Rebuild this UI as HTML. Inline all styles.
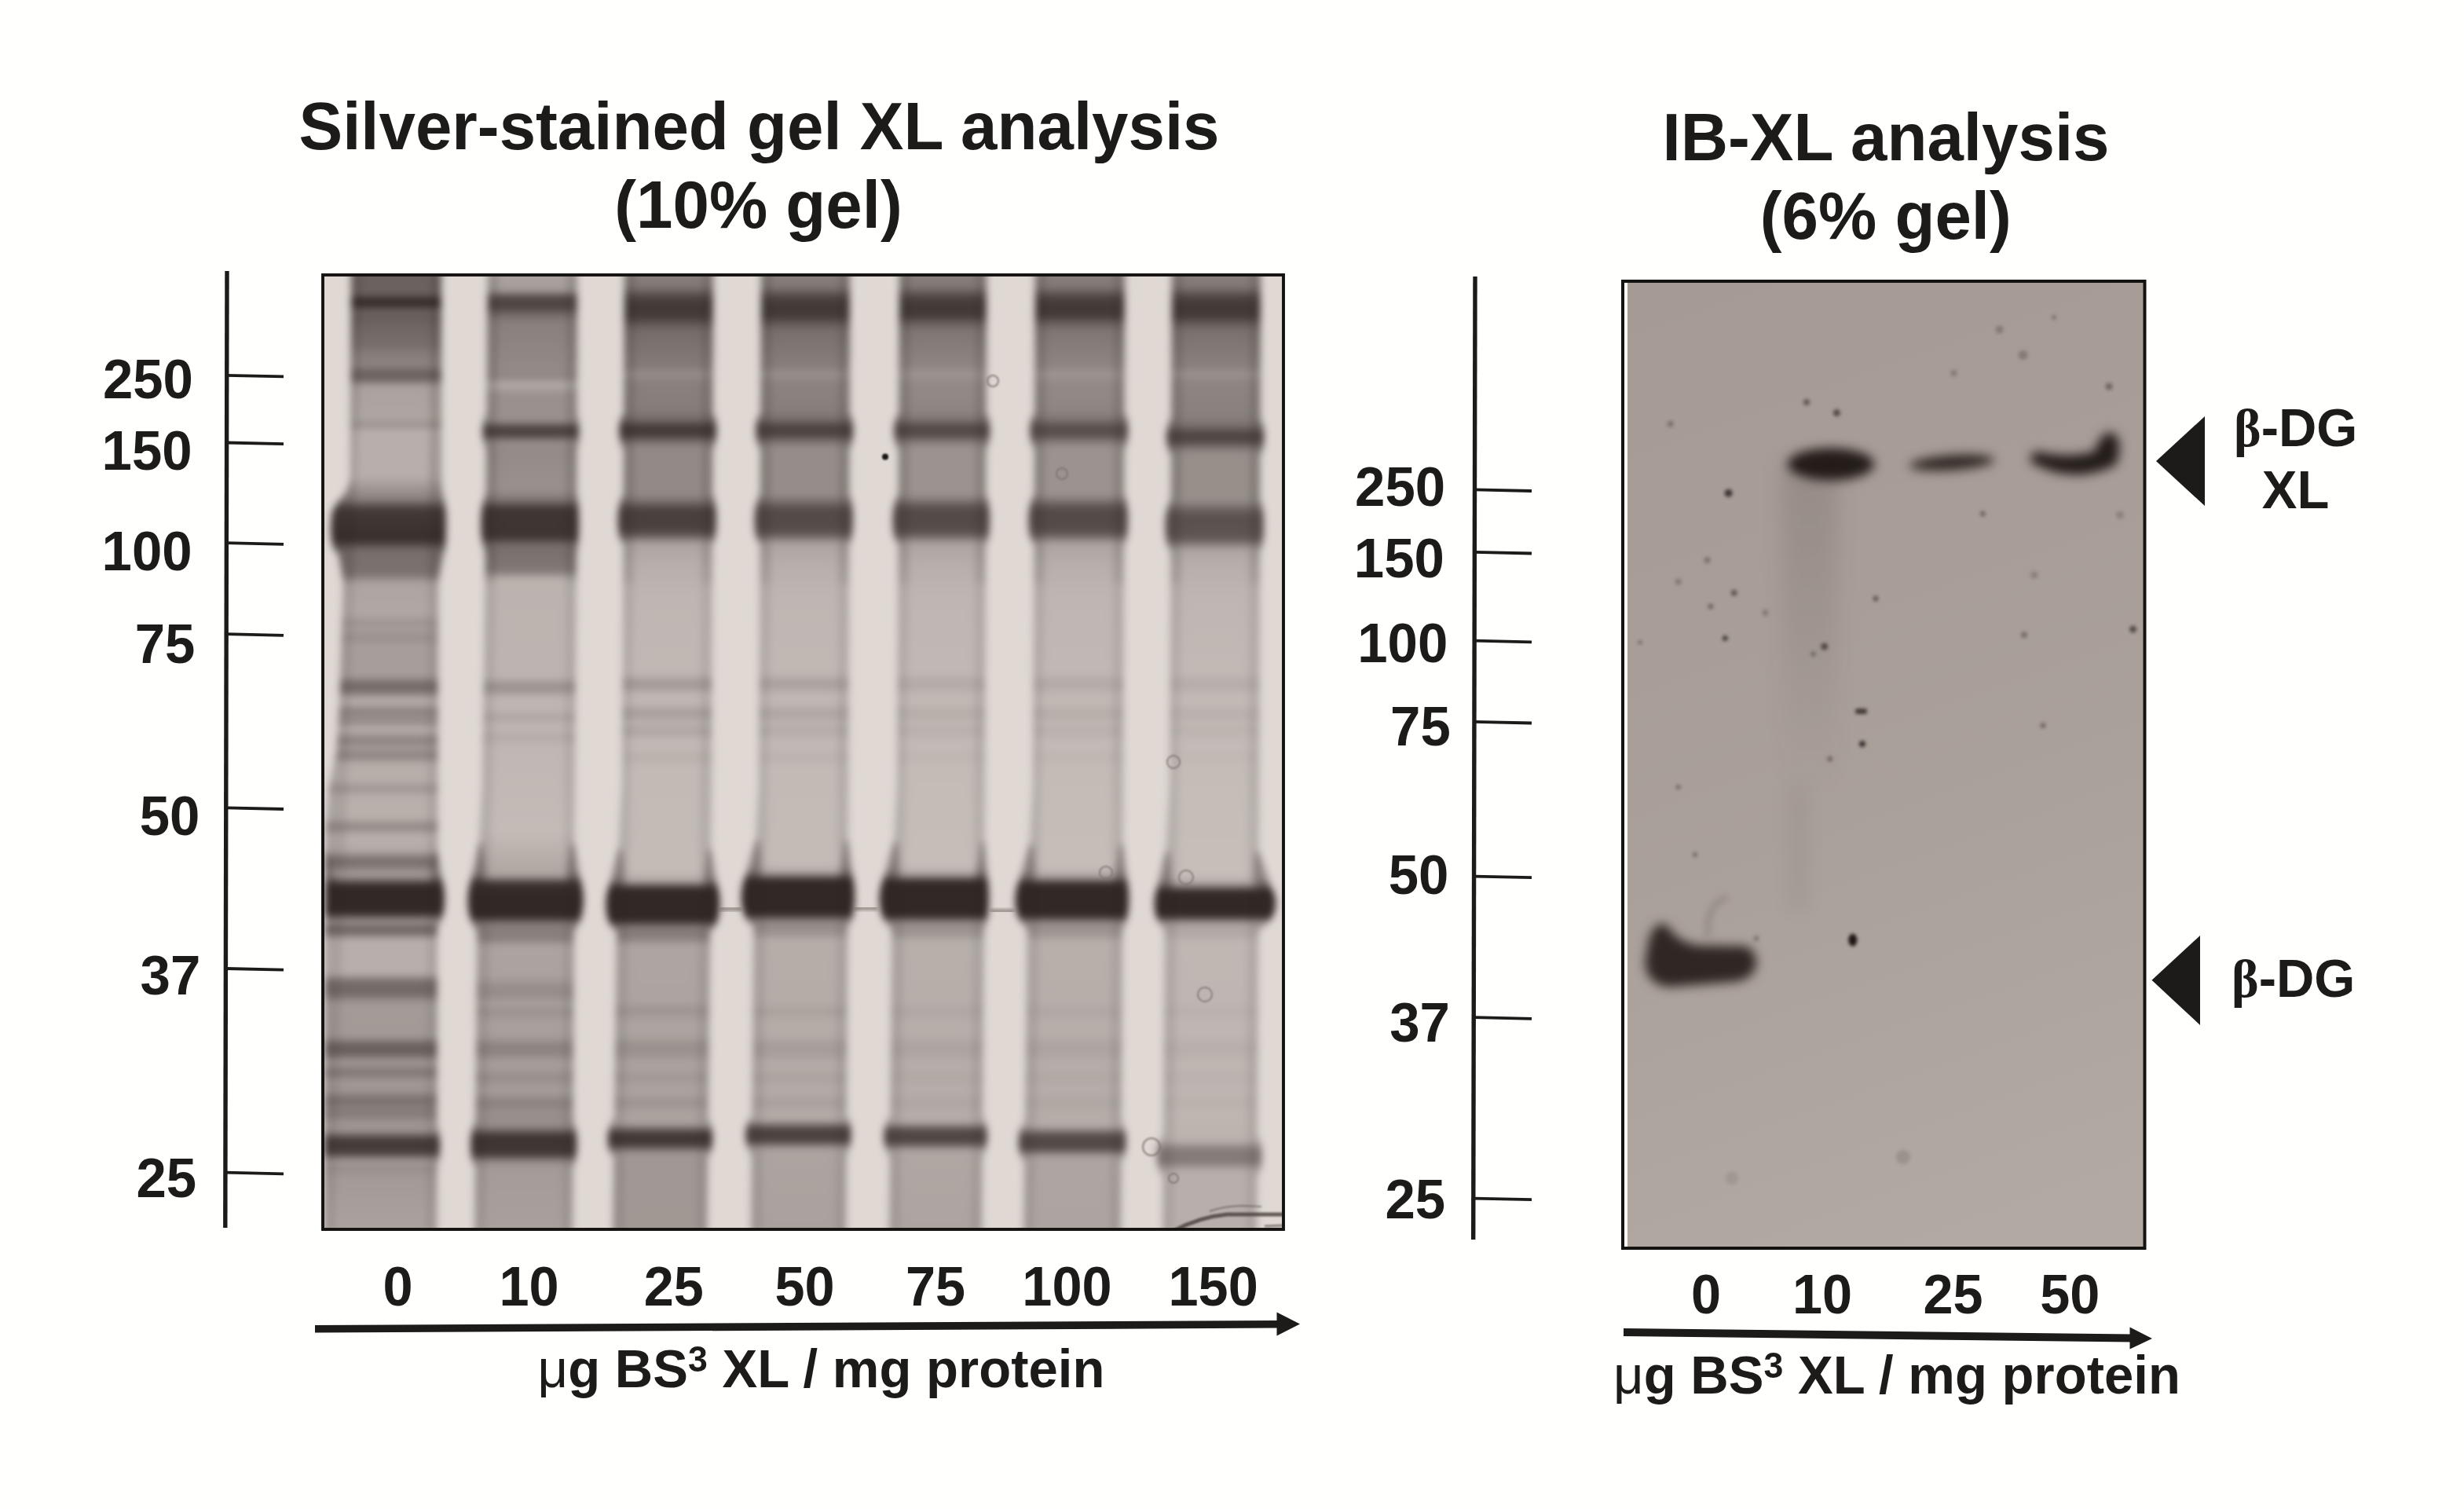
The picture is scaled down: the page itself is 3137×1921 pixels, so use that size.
<!DOCTYPE html><html><head><meta charset="utf-8"><title>Silver-stained gel XL analysis / IB-XL analysis</title>
<style>html,body{margin:0;padding:0;background:#fffffd;}svg{display:block}text{font-family:"Liberation Sans",sans-serif;font-weight:bold;fill:#1d1b19}.r{font-weight:normal}.s{font-family:"Liberation Serif",serif;font-weight:bold}</style></head><body>
<svg width="3137" height="1921" viewBox="0 0 3137 1921">
<defs>
<filter color-interpolation-filters="sRGB" id="b3" x="-5%" y="-5%" width="110%" height="110%"><feGaussianBlur stdDeviation="4.6"/></filter>
<filter color-interpolation-filters="sRGB" id="b2" x="-20%" y="-20%" width="140%" height="140%"><feGaussianBlur stdDeviation="2"/></filter>
<filter color-interpolation-filters="sRGB" id="b1" x="-30%" y="-30%" width="160%" height="160%"><feGaussianBlur stdDeviation="1.2"/></filter>
<filter color-interpolation-filters="sRGB" id="b7" x="-30%" y="-30%" width="160%" height="160%"><feGaussianBlur stdDeviation="7"/></filter>
<filter color-interpolation-filters="sRGB" id="b6" x="-30%" y="-30%" width="160%" height="160%"><feGaussianBlur stdDeviation="6"/></filter>
<filter color-interpolation-filters="sRGB" id="bs" x="-150%" y="-150%" width="400%" height="400%"><feGaussianBlur stdDeviation="4"/></filter>
<filter color-interpolation-filters="sRGB" id="b12" x="-150%" y="-30%" width="400%" height="160%"><feGaussianBlur stdDeviation="12"/></filter>
<filter color-interpolation-filters="sRGB" id="b25" x="-50%" y="-50%" width="200%" height="200%"><feGaussianBlur stdDeviation="25"/></filter>
<clipPath id="cg"><rect x="411" y="350" width="1223" height="1215"/></clipPath>
<clipPath id="cb"><rect x="2066" y="358" width="665" height="1231"/></clipPath>
<linearGradient id="g0" gradientUnits="userSpaceOnUse" x1="0" y1="350" x2="0" y2="1566">
<stop offset="0.0000" stop-color="#69615d"/><stop offset="0.0197" stop-color="#6b635f"/><stop offset="0.0214" stop-color="#635a57"/><stop offset="0.0247" stop-color="#3d3431"/><stop offset="0.0263" stop-color="#342b28"/><stop offset="0.0312" stop-color="#352c29"/><stop offset="0.0329" stop-color="#3e3532"/><stop offset="0.0362" stop-color="#645c58"/><stop offset="0.0378" stop-color="#6d6561"/><stop offset="0.0411" stop-color="#6f6663"/><stop offset="0.0428" stop-color="#6a625e"/><stop offset="0.0444" stop-color="#615855"/><stop offset="0.0461" stop-color="#5e5552"/><stop offset="0.0493" stop-color="#716965"/><stop offset="0.0510" stop-color="#736b67"/><stop offset="0.0526" stop-color="#716965"/><stop offset="0.0543" stop-color="#665e5a"/><stop offset="0.0559" stop-color="#675f5b"/><stop offset="0.0576" stop-color="#746b68"/><stop offset="0.0609" stop-color="#78706c"/><stop offset="0.0641" stop-color="#68605c"/><stop offset="0.0674" stop-color="#7b736f"/><stop offset="0.0707" stop-color="#7a726e"/><stop offset="0.0724" stop-color="#6f6663"/><stop offset="0.0740" stop-color="#706764"/><stop offset="0.0757" stop-color="#7d7471"/><stop offset="0.0773" stop-color="#807874"/><stop offset="0.0938" stop-color="#8d8581"/><stop offset="0.0954" stop-color="#8c8480"/><stop offset="0.0970" stop-color="#857d79"/><stop offset="0.1003" stop-color="#706864"/><stop offset="0.1020" stop-color="#69615d"/><stop offset="0.1069" stop-color="#6a615e"/><stop offset="0.1086" stop-color="#6b635f"/><stop offset="0.1102" stop-color="#736a67"/><stop offset="0.1118" stop-color="#7e7672"/><stop offset="0.1151" stop-color="#a8a19c"/><stop offset="0.1168" stop-color="#aaa29e"/><stop offset="0.1513" stop-color="#ada6a1"/><stop offset="0.1530" stop-color="#aba49f"/><stop offset="0.1562" stop-color="#918985"/><stop offset="0.1579" stop-color="#948c88"/><stop offset="0.1612" stop-color="#b3aca7"/><stop offset="0.1628" stop-color="#b7afab"/><stop offset="0.2105" stop-color="#b7afab"/><stop offset="0.2336" stop-color="#8c8480"/><stop offset="0.2368" stop-color="#7e7672"/><stop offset="0.2434" stop-color="#4e4642"/><stop offset="0.2451" stop-color="#463e3a"/><stop offset="0.2467" stop-color="#433a37"/><stop offset="0.2763" stop-color="#39302d"/><stop offset="0.2780" stop-color="#3c3330"/><stop offset="0.2796" stop-color="#423a36"/><stop offset="0.2862" stop-color="#6d6561"/><stop offset="0.2878" stop-color="#746c68"/><stop offset="0.2895" stop-color="#776f6b"/><stop offset="0.3125" stop-color="#7b726f"/><stop offset="0.3141" stop-color="#7f7673"/><stop offset="0.3224" stop-color="#aca4a0"/><stop offset="0.3536" stop-color="#b0a8a4"/><stop offset="0.3586" stop-color="#aaa39e"/><stop offset="0.3635" stop-color="#99918d"/><stop offset="0.3684" stop-color="#a49c98"/><stop offset="0.3734" stop-color="#a69e9a"/><stop offset="0.3799" stop-color="#958d89"/><stop offset="0.3865" stop-color="#a69e9a"/><stop offset="0.4194" stop-color="#a69e9a"/><stop offset="0.4211" stop-color="#a19995"/><stop offset="0.4276" stop-color="#736b67"/><stop offset="0.4293" stop-color="#706864"/><stop offset="0.4342" stop-color="#746b68"/><stop offset="0.4359" stop-color="#78706c"/><stop offset="0.4408" stop-color="#a29a96"/><stop offset="0.4424" stop-color="#aea6a2"/><stop offset="0.4441" stop-color="#b2aba6"/><stop offset="0.4507" stop-color="#b1a9a5"/><stop offset="0.4556" stop-color="#877f7b"/><stop offset="0.4572" stop-color="#867e7a"/><stop offset="0.4589" stop-color="#88807c"/><stop offset="0.4622" stop-color="#9e9792"/><stop offset="0.4638" stop-color="#9d9591"/><stop offset="0.4655" stop-color="#908984"/><stop offset="0.4671" stop-color="#8a827e"/><stop offset="0.4688" stop-color="#918985"/><stop offset="0.4720" stop-color="#ada6a1"/><stop offset="0.4737" stop-color="#b4aca8"/><stop offset="0.4786" stop-color="#b3aba7"/><stop offset="0.4803" stop-color="#aba49f"/><stop offset="0.4836" stop-color="#948c88"/><stop offset="0.4852" stop-color="#8c8480"/><stop offset="0.4868" stop-color="#8b837f"/><stop offset="0.4901" stop-color="#8d8581"/><stop offset="0.4951" stop-color="#a8a09c"/><stop offset="0.4967" stop-color="#a69e9a"/><stop offset="0.5000" stop-color="#908884"/><stop offset="0.5016" stop-color="#8c8480"/><stop offset="0.5049" stop-color="#8d8581"/><stop offset="0.5066" stop-color="#958d89"/><stop offset="0.5099" stop-color="#ada6a1"/><stop offset="0.5115" stop-color="#b4ada8"/><stop offset="0.5132" stop-color="#b5aea9"/><stop offset="0.5296" stop-color="#b6afaa"/><stop offset="0.5312" stop-color="#b4aca8"/><stop offset="0.5362" stop-color="#9e9692"/><stop offset="0.5378" stop-color="#9b938f"/><stop offset="0.5395" stop-color="#9e9692"/><stop offset="0.5444" stop-color="#b4ada8"/><stop offset="0.5461" stop-color="#b7afab"/><stop offset="0.5559" stop-color="#b7b0ab"/><stop offset="0.5691" stop-color="#b7b0ab"/><stop offset="0.5757" stop-color="#918a85"/><stop offset="0.5789" stop-color="#918985"/><stop offset="0.5806" stop-color="#958d89"/><stop offset="0.5855" stop-color="#b5ada9"/><stop offset="0.5872" stop-color="#b8b0ac"/><stop offset="0.6020" stop-color="#b3aca7"/><stop offset="0.6036" stop-color="#afa7a3"/><stop offset="0.6053" stop-color="#a49c98"/><stop offset="0.6102" stop-color="#7f7773"/><stop offset="0.6118" stop-color="#7b726f"/><stop offset="0.6168" stop-color="#78706c"/><stop offset="0.6184" stop-color="#7b726f"/><stop offset="0.6250" stop-color="#a29a96"/><stop offset="0.6266" stop-color="#a39b97"/><stop offset="0.6299" stop-color="#9e9692"/><stop offset="0.6316" stop-color="#938b87"/><stop offset="0.6332" stop-color="#7c7470"/><stop offset="0.6365" stop-color="#4c4340"/><stop offset="0.6382" stop-color="#39312d"/><stop offset="0.6398" stop-color="#322926"/><stop offset="0.6661" stop-color="#322926"/><stop offset="0.6678" stop-color="#342b28"/><stop offset="0.6694" stop-color="#423936"/><stop offset="0.6743" stop-color="#877f7b"/><stop offset="0.6760" stop-color="#978f8b"/><stop offset="0.6776" stop-color="#99918d"/><stop offset="0.6793" stop-color="#918985"/><stop offset="0.6826" stop-color="#716965"/><stop offset="0.6842" stop-color="#6c6360"/><stop offset="0.6891" stop-color="#736b67"/><stop offset="0.6908" stop-color="#7e7672"/><stop offset="0.6941" stop-color="#ada5a1"/><stop offset="0.6957" stop-color="#b7afab"/><stop offset="0.7303" stop-color="#b7afab"/><stop offset="0.7319" stop-color="#b5ada9"/><stop offset="0.7385" stop-color="#7e7672"/><stop offset="0.7401" stop-color="#756c69"/><stop offset="0.7418" stop-color="#726a66"/><stop offset="0.7516" stop-color="#726966"/><stop offset="0.7533" stop-color="#746c68"/><stop offset="0.7599" stop-color="#98908c"/><stop offset="0.7632" stop-color="#a39b97"/><stop offset="0.7961" stop-color="#a19a95"/><stop offset="0.7977" stop-color="#a09894"/><stop offset="0.7993" stop-color="#97908b"/><stop offset="0.8043" stop-color="#716965"/><stop offset="0.8059" stop-color="#6a625e"/><stop offset="0.8076" stop-color="#69605d"/><stop offset="0.8141" stop-color="#69605d"/><stop offset="0.8158" stop-color="#6c6460"/><stop offset="0.8207" stop-color="#908884"/><stop offset="0.8224" stop-color="#9c9490"/><stop offset="0.8240" stop-color="#a09894"/><stop offset="0.8273" stop-color="#9f9793"/><stop offset="0.8322" stop-color="#847b78"/><stop offset="0.8339" stop-color="#7e7572"/><stop offset="0.8355" stop-color="#7d7571"/><stop offset="0.8372" stop-color="#807874"/><stop offset="0.8421" stop-color="#9c9490"/><stop offset="0.8438" stop-color="#9f9893"/><stop offset="0.8553" stop-color="#9e9692"/><stop offset="0.8618" stop-color="#79716d"/><stop offset="0.8651" stop-color="#78706c"/><stop offset="0.8668" stop-color="#79716d"/><stop offset="0.8717" stop-color="#8b837f"/><stop offset="0.8734" stop-color="#8a827e"/><stop offset="0.8766" stop-color="#827a76"/><stop offset="0.8799" stop-color="#837b77"/><stop offset="0.8865" stop-color="#9d9591"/><stop offset="0.8947" stop-color="#9d9691"/><stop offset="0.8964" stop-color="#9b938f"/><stop offset="0.8980" stop-color="#8d8581"/><stop offset="0.9030" stop-color="#514945"/><stop offset="0.9046" stop-color="#463d3a"/><stop offset="0.9062" stop-color="#443b38"/><stop offset="0.9178" stop-color="#453c39"/><stop offset="0.9194" stop-color="#4c4340"/><stop offset="0.9211" stop-color="#5c5350"/><stop offset="0.9243" stop-color="#867e7a"/><stop offset="0.9260" stop-color="#99918d"/><stop offset="0.9276" stop-color="#a09994"/><stop offset="0.9309" stop-color="#a19995"/><stop offset="0.9359" stop-color="#958d89"/><stop offset="0.9375" stop-color="#958d89"/><stop offset="0.9424" stop-color="#a29a96"/><stop offset="1.0000" stop-color="#aaa29e"/>
</linearGradient>
<linearGradient id="g1" gradientUnits="userSpaceOnUse" x1="0" y1="350" x2="0" y2="1566">
<stop offset="0.0000" stop-color="#aca4a0"/><stop offset="0.0181" stop-color="#a19a95"/><stop offset="0.0214" stop-color="#554c49"/><stop offset="0.0345" stop-color="#4c4340"/><stop offset="0.0395" stop-color="#6f6663"/><stop offset="0.0493" stop-color="#88807c"/><stop offset="0.1036" stop-color="#938b87"/><stop offset="0.1086" stop-color="#8a827e"/><stop offset="0.1118" stop-color="#b2aaa6"/><stop offset="0.1184" stop-color="#aea7a2"/><stop offset="0.1234" stop-color="#99918d"/><stop offset="0.1530" stop-color="#99918d"/><stop offset="0.1546" stop-color="#8b837f"/><stop offset="0.1579" stop-color="#58504c"/><stop offset="0.1595" stop-color="#4d4441"/><stop offset="0.1678" stop-color="#4b433f"/><stop offset="0.1694" stop-color="#564e4a"/><stop offset="0.1727" stop-color="#88807c"/><stop offset="0.1743" stop-color="#958d89"/><stop offset="0.1859" stop-color="#938b87"/><stop offset="0.2253" stop-color="#99918d"/><stop offset="0.2368" stop-color="#7a726e"/><stop offset="0.2434" stop-color="#473e3b"/><stop offset="0.2451" stop-color="#3f3633"/><stop offset="0.2730" stop-color="#3e3532"/><stop offset="0.2747" stop-color="#3f3633"/><stop offset="0.2763" stop-color="#473e3b"/><stop offset="0.2812" stop-color="#6f6663"/><stop offset="0.2829" stop-color="#776f6b"/><stop offset="0.3092" stop-color="#807874"/><stop offset="0.3109" stop-color="#857d79"/><stop offset="0.3174" stop-color="#b5aea9"/><stop offset="0.3191" stop-color="#bab3ae"/><stop offset="0.4211" stop-color="#bcb4b0"/><stop offset="0.4227" stop-color="#b9b1ad"/><stop offset="0.4276" stop-color="#9d9591"/><stop offset="0.4293" stop-color="#99928d"/><stop offset="0.4342" stop-color="#9a928e"/><stop offset="0.4359" stop-color="#9e9692"/><stop offset="0.4408" stop-color="#bab2ae"/><stop offset="0.4424" stop-color="#bdb5b1"/><stop offset="0.4556" stop-color="#bdb6b1"/><stop offset="0.4572" stop-color="#bbb3af"/><stop offset="0.4605" stop-color="#afa7a3"/><stop offset="0.4638" stop-color="#aca4a0"/><stop offset="0.4704" stop-color="#beb6b2"/><stop offset="0.4770" stop-color="#beb6b2"/><stop offset="0.4819" stop-color="#b3aca7"/><stop offset="0.4852" stop-color="#b3aba7"/><stop offset="0.4934" stop-color="#bfb7b3"/><stop offset="0.5839" stop-color="#c2bbb6"/><stop offset="0.6283" stop-color="#aca5a0"/><stop offset="0.6299" stop-color="#a29a96"/><stop offset="0.6316" stop-color="#8a827e"/><stop offset="0.6349" stop-color="#564d4a"/><stop offset="0.6365" stop-color="#413935"/><stop offset="0.6382" stop-color="#39302d"/><stop offset="0.6497" stop-color="#322926"/><stop offset="0.6711" stop-color="#322926"/><stop offset="0.6727" stop-color="#342b28"/><stop offset="0.6776" stop-color="#79716d"/><stop offset="0.6793" stop-color="#867e7a"/><stop offset="0.6957" stop-color="#88807c"/><stop offset="0.6974" stop-color="#8e8682"/><stop offset="0.7007" stop-color="#a69e9a"/><stop offset="0.7023" stop-color="#aca4a0"/><stop offset="0.7352" stop-color="#aaa29e"/><stop offset="0.7451" stop-color="#958d89"/><stop offset="0.7549" stop-color="#968e8a"/><stop offset="0.7615" stop-color="#a7a09b"/><stop offset="0.7632" stop-color="#a8a19c"/><stop offset="0.7714" stop-color="#98908c"/><stop offset="0.7812" stop-color="#a8a09c"/><stop offset="0.7961" stop-color="#a79f9b"/><stop offset="0.7993" stop-color="#a39b97"/><stop offset="0.8043" stop-color="#908884"/><stop offset="0.8076" stop-color="#8b837f"/><stop offset="0.8158" stop-color="#8d8581"/><stop offset="0.8207" stop-color="#9f9793"/><stop offset="0.8240" stop-color="#a69e9a"/><stop offset="0.8322" stop-color="#a59d99"/><stop offset="0.8372" stop-color="#98908c"/><stop offset="0.8405" stop-color="#948c88"/><stop offset="0.8438" stop-color="#97908b"/><stop offset="0.8487" stop-color="#a49c98"/><stop offset="0.8569" stop-color="#a39c97"/><stop offset="0.8635" stop-color="#8f8783"/><stop offset="0.8684" stop-color="#88807c"/><stop offset="0.8750" stop-color="#98908c"/><stop offset="0.8898" stop-color="#968e8a"/><stop offset="0.8914" stop-color="#948c88"/><stop offset="0.8931" stop-color="#89817d"/><stop offset="0.8997" stop-color="#473e3b"/><stop offset="0.9013" stop-color="#3e3532"/><stop offset="0.9030" stop-color="#3d3431"/><stop offset="0.9194" stop-color="#403834"/><stop offset="0.9211" stop-color="#4a413e"/><stop offset="0.9227" stop-color="#59504d"/><stop offset="0.9276" stop-color="#8f8783"/><stop offset="0.9293" stop-color="#9b938f"/><stop offset="0.9309" stop-color="#9e9692"/><stop offset="0.9375" stop-color="#a39c97"/><stop offset="1.0000" stop-color="#a8a09c"/>
</linearGradient>
<linearGradient id="g2" gradientUnits="userSpaceOnUse" x1="0" y1="350" x2="0" y2="1566">
<stop offset="0.0000" stop-color="#88807c"/><stop offset="0.0132" stop-color="#807874"/><stop offset="0.0214" stop-color="#554c49"/><stop offset="0.0296" stop-color="#433a37"/><stop offset="0.0428" stop-color="#433a37"/><stop offset="0.0576" stop-color="#756c69"/><stop offset="0.0987" stop-color="#857d79"/><stop offset="0.1020" stop-color="#978f8b"/><stop offset="0.1053" stop-color="#978f8b"/><stop offset="0.1102" stop-color="#89817d"/><stop offset="0.1414" stop-color="#857d79"/><stop offset="0.1497" stop-color="#79716d"/><stop offset="0.1513" stop-color="#746c68"/><stop offset="0.1579" stop-color="#4a423e"/><stop offset="0.1595" stop-color="#433b37"/><stop offset="0.1612" stop-color="#413835"/><stop offset="0.1661" stop-color="#433a37"/><stop offset="0.1678" stop-color="#49403d"/><stop offset="0.1760" stop-color="#817975"/><stop offset="0.1809" stop-color="#928a86"/><stop offset="0.2286" stop-color="#928a86"/><stop offset="0.2352" stop-color="#827a76"/><stop offset="0.2434" stop-color="#554c49"/><stop offset="0.2467" stop-color="#4a413e"/><stop offset="0.2484" stop-color="#483f3c"/><stop offset="0.2648" stop-color="#4b423f"/><stop offset="0.2681" stop-color="#4f4643"/><stop offset="0.2730" stop-color="#665d5a"/><stop offset="0.2780" stop-color="#938b87"/><stop offset="0.2812" stop-color="#aca4a0"/><stop offset="0.3043" stop-color="#b7afab"/><stop offset="0.3372" stop-color="#beb6b2"/><stop offset="0.4161" stop-color="#bfb8b3"/><stop offset="0.4194" stop-color="#bbb3af"/><stop offset="0.4260" stop-color="#a09994"/><stop offset="0.4293" stop-color="#a09894"/><stop offset="0.4326" stop-color="#a59e99"/><stop offset="0.4375" stop-color="#bbb4af"/><stop offset="0.4408" stop-color="#c0b8b4"/><stop offset="0.4490" stop-color="#bfb8b3"/><stop offset="0.4556" stop-color="#aaa39e"/><stop offset="0.4589" stop-color="#a69e9a"/><stop offset="0.4622" stop-color="#a8a19c"/><stop offset="0.4688" stop-color="#bdb6b1"/><stop offset="0.4770" stop-color="#aca4a0"/><stop offset="0.4803" stop-color="#b0a8a4"/><stop offset="0.4852" stop-color="#bdb6b1"/><stop offset="0.4885" stop-color="#c1b9b5"/><stop offset="0.4967" stop-color="#c0b9b4"/><stop offset="0.5049" stop-color="#b6afaa"/><stop offset="0.5148" stop-color="#c1bab5"/><stop offset="0.6250" stop-color="#c2bbb6"/><stop offset="0.6349" stop-color="#aea7a2"/><stop offset="0.6365" stop-color="#98918c"/><stop offset="0.6414" stop-color="#3e3532"/><stop offset="0.6431" stop-color="#322926"/><stop offset="0.6760" stop-color="#322926"/><stop offset="0.6776" stop-color="#433a37"/><stop offset="0.6793" stop-color="#615955"/><stop offset="0.6809" stop-color="#79706d"/><stop offset="0.6826" stop-color="#827a76"/><stop offset="0.6941" stop-color="#88807c"/><stop offset="0.6957" stop-color="#8d8581"/><stop offset="0.7007" stop-color="#a8a19c"/><stop offset="0.7023" stop-color="#ada5a1"/><stop offset="0.7615" stop-color="#aca4a0"/><stop offset="0.7681" stop-color="#9e9692"/><stop offset="0.7714" stop-color="#9c9490"/><stop offset="0.7812" stop-color="#aca4a0"/><stop offset="0.7961" stop-color="#aba49f"/><stop offset="0.8059" stop-color="#98918c"/><stop offset="0.8158" stop-color="#9a928e"/><stop offset="0.8240" stop-color="#aba39f"/><stop offset="0.8322" stop-color="#aaa29e"/><stop offset="0.8405" stop-color="#9d9691"/><stop offset="0.8487" stop-color="#aaa29e"/><stop offset="0.8569" stop-color="#aba39f"/><stop offset="0.8668" stop-color="#9a928e"/><stop offset="0.8766" stop-color="#aaa39e"/><stop offset="0.8882" stop-color="#a9a29d"/><stop offset="0.8898" stop-color="#a29b96"/><stop offset="0.8914" stop-color="#928a86"/><stop offset="0.8964" stop-color="#564d4a"/><stop offset="0.8980" stop-color="#483f3c"/><stop offset="0.8997" stop-color="#423936"/><stop offset="0.9079" stop-color="#413835"/><stop offset="0.9095" stop-color="#423936"/><stop offset="0.9112" stop-color="#4b433f"/><stop offset="0.9128" stop-color="#5b534f"/><stop offset="0.9161" stop-color="#827a76"/><stop offset="0.9178" stop-color="#958d89"/><stop offset="0.9194" stop-color="#a09894"/><stop offset="1.0000" stop-color="#9f9893"/>
</linearGradient>
<linearGradient id="g3" gradientUnits="userSpaceOnUse" x1="0" y1="350" x2="0" y2="1566">
<stop offset="0.0000" stop-color="#88807c"/><stop offset="0.0132" stop-color="#807874"/><stop offset="0.0214" stop-color="#554c49"/><stop offset="0.0296" stop-color="#433a37"/><stop offset="0.0428" stop-color="#433a37"/><stop offset="0.0493" stop-color="#5d5451"/><stop offset="0.0576" stop-color="#776f6b"/><stop offset="0.0987" stop-color="#88807c"/><stop offset="0.1020" stop-color="#99918d"/><stop offset="0.1053" stop-color="#99918d"/><stop offset="0.1102" stop-color="#8c8480"/><stop offset="0.1431" stop-color="#877e7b"/><stop offset="0.1513" stop-color="#776f6b"/><stop offset="0.1579" stop-color="#514945"/><stop offset="0.1612" stop-color="#49403d"/><stop offset="0.1661" stop-color="#4b423f"/><stop offset="0.1678" stop-color="#504844"/><stop offset="0.1760" stop-color="#847c78"/><stop offset="0.1809" stop-color="#958d89"/><stop offset="0.2286" stop-color="#958d89"/><stop offset="0.2336" stop-color="#89817d"/><stop offset="0.2434" stop-color="#5d5451"/><stop offset="0.2467" stop-color="#544b48"/><stop offset="0.2484" stop-color="#524a46"/><stop offset="0.2648" stop-color="#554c49"/><stop offset="0.2681" stop-color="#59504d"/><stop offset="0.2730" stop-color="#6b635f"/><stop offset="0.2780" stop-color="#948c88"/><stop offset="0.2812" stop-color="#aca4a0"/><stop offset="0.3043" stop-color="#b7afab"/><stop offset="0.3372" stop-color="#beb6b2"/><stop offset="0.4161" stop-color="#bfb8b3"/><stop offset="0.4194" stop-color="#bcb4b0"/><stop offset="0.4260" stop-color="#a8a19c"/><stop offset="0.4293" stop-color="#a8a09c"/><stop offset="0.4326" stop-color="#aca5a0"/><stop offset="0.4375" stop-color="#bcb5b0"/><stop offset="0.4408" stop-color="#c0b8b4"/><stop offset="0.4490" stop-color="#bfb8b3"/><stop offset="0.4556" stop-color="#b0a9a4"/><stop offset="0.4589" stop-color="#ada5a1"/><stop offset="0.4622" stop-color="#afa7a3"/><stop offset="0.4688" stop-color="#beb6b2"/><stop offset="0.4770" stop-color="#b1aaa5"/><stop offset="0.4885" stop-color="#c1b9b5"/><stop offset="0.4967" stop-color="#c0b9b4"/><stop offset="0.5049" stop-color="#b9b1ad"/><stop offset="0.5148" stop-color="#c1bab5"/><stop offset="0.6168" stop-color="#c2bbb6"/><stop offset="0.6250" stop-color="#b2aaa6"/><stop offset="0.6266" stop-color="#a69e9a"/><stop offset="0.6283" stop-color="#8a827e"/><stop offset="0.6316" stop-color="#4d4541"/><stop offset="0.6332" stop-color="#362d2a"/><stop offset="0.6349" stop-color="#322926"/><stop offset="0.6694" stop-color="#322926"/><stop offset="0.6711" stop-color="#433a37"/><stop offset="0.6743" stop-color="#7c7470"/><stop offset="0.6760" stop-color="#8e8682"/><stop offset="0.6776" stop-color="#928a86"/><stop offset="0.6891" stop-color="#99918d"/><stop offset="0.6957" stop-color="#b4ada8"/><stop offset="0.7615" stop-color="#b3aca7"/><stop offset="0.7714" stop-color="#a7a09b"/><stop offset="0.7812" stop-color="#b3aca7"/><stop offset="0.7961" stop-color="#b3aca7"/><stop offset="0.8059" stop-color="#a59d99"/><stop offset="0.8158" stop-color="#a69e9a"/><stop offset="0.8240" stop-color="#b3aba7"/><stop offset="0.8322" stop-color="#b2aba6"/><stop offset="0.8405" stop-color="#a8a19c"/><stop offset="0.8487" stop-color="#b2aaa6"/><stop offset="0.8569" stop-color="#b2aba6"/><stop offset="0.8668" stop-color="#a69e9a"/><stop offset="0.8750" stop-color="#b1aaa5"/><stop offset="0.8832" stop-color="#b2aba6"/><stop offset="0.8849" stop-color="#b0a9a4"/><stop offset="0.8865" stop-color="#a49d98"/><stop offset="0.8882" stop-color="#908884"/><stop offset="0.8914" stop-color="#675e5b"/><stop offset="0.8931" stop-color="#564d4a"/><stop offset="0.8947" stop-color="#4c4340"/><stop offset="0.9046" stop-color="#49403d"/><stop offset="0.9062" stop-color="#4d4541"/><stop offset="0.9079" stop-color="#5b524f"/><stop offset="0.9128" stop-color="#968e8a"/><stop offset="0.9145" stop-color="#a59e99"/><stop offset="0.9161" stop-color="#aba49f"/><stop offset="1.0000" stop-color="#a9a19d"/>
</linearGradient>
<linearGradient id="g4" gradientUnits="userSpaceOnUse" x1="0" y1="350" x2="0" y2="1566">
<stop offset="0.0000" stop-color="#88807c"/><stop offset="0.0132" stop-color="#807874"/><stop offset="0.0214" stop-color="#554c49"/><stop offset="0.0296" stop-color="#433a37"/><stop offset="0.0428" stop-color="#433a37"/><stop offset="0.0493" stop-color="#645c58"/><stop offset="0.0576" stop-color="#7e7672"/><stop offset="0.0987" stop-color="#8f8783"/><stop offset="0.1020" stop-color="#9f9793"/><stop offset="0.1069" stop-color="#9c9590"/><stop offset="0.1102" stop-color="#938b87"/><stop offset="0.1431" stop-color="#8d8581"/><stop offset="0.1513" stop-color="#7e7672"/><stop offset="0.1579" stop-color="#58504c"/><stop offset="0.1612" stop-color="#504744"/><stop offset="0.1661" stop-color="#524946"/><stop offset="0.1678" stop-color="#574f4b"/><stop offset="0.1760" stop-color="#8a827e"/><stop offset="0.1809" stop-color="#9b938f"/><stop offset="0.2286" stop-color="#9b938f"/><stop offset="0.2303" stop-color="#98908c"/><stop offset="0.2352" stop-color="#857d79"/><stop offset="0.2401" stop-color="#69615d"/><stop offset="0.2434" stop-color="#5d5451"/><stop offset="0.2467" stop-color="#544b48"/><stop offset="0.2484" stop-color="#524a46"/><stop offset="0.2648" stop-color="#554c49"/><stop offset="0.2681" stop-color="#59504d"/><stop offset="0.2730" stop-color="#6b635f"/><stop offset="0.2780" stop-color="#948c88"/><stop offset="0.2812" stop-color="#aca4a0"/><stop offset="0.3043" stop-color="#b7afab"/><stop offset="0.3372" stop-color="#beb6b2"/><stop offset="0.4161" stop-color="#c0b8b4"/><stop offset="0.4194" stop-color="#bdb6b1"/><stop offset="0.4260" stop-color="#b1a9a5"/><stop offset="0.4293" stop-color="#b1a9a5"/><stop offset="0.4408" stop-color="#c0b9b4"/><stop offset="0.4490" stop-color="#c0b9b4"/><stop offset="0.4556" stop-color="#b6afaa"/><stop offset="0.4589" stop-color="#b4ada8"/><stop offset="0.4622" stop-color="#b5aea9"/><stop offset="0.4688" stop-color="#bfb8b3"/><stop offset="0.4770" stop-color="#b7afab"/><stop offset="0.4885" stop-color="#c2bab6"/><stop offset="0.4967" stop-color="#c1bab5"/><stop offset="0.5049" stop-color="#bcb5b0"/><stop offset="0.5148" stop-color="#c2bbb6"/><stop offset="0.6184" stop-color="#c4bdb8"/><stop offset="0.6266" stop-color="#b2aaa6"/><stop offset="0.6283" stop-color="#a69f9a"/><stop offset="0.6299" stop-color="#8a827e"/><stop offset="0.6332" stop-color="#4e4542"/><stop offset="0.6349" stop-color="#362d2a"/><stop offset="0.6365" stop-color="#322926"/><stop offset="0.6711" stop-color="#322926"/><stop offset="0.6727" stop-color="#463d3a"/><stop offset="0.6760" stop-color="#7f7773"/><stop offset="0.6776" stop-color="#928b86"/><stop offset="0.6793" stop-color="#968e8a"/><stop offset="0.6908" stop-color="#9d9691"/><stop offset="0.6974" stop-color="#b6afaa"/><stop offset="0.7615" stop-color="#b5aea9"/><stop offset="0.7714" stop-color="#aea6a2"/><stop offset="0.7812" stop-color="#b5aea9"/><stop offset="0.7961" stop-color="#b5aea9"/><stop offset="0.8059" stop-color="#aca4a0"/><stop offset="0.8158" stop-color="#aca5a0"/><stop offset="0.8240" stop-color="#b5ada9"/><stop offset="0.8322" stop-color="#b4ada8"/><stop offset="0.8405" stop-color="#aea7a2"/><stop offset="0.8487" stop-color="#b4ada8"/><stop offset="0.8569" stop-color="#b5ada9"/><stop offset="0.8668" stop-color="#aca5a0"/><stop offset="0.8750" stop-color="#b4aca8"/><stop offset="0.8849" stop-color="#b4ada8"/><stop offset="0.8865" stop-color="#b3aba7"/><stop offset="0.8882" stop-color="#a79f9b"/><stop offset="0.8898" stop-color="#948c88"/><stop offset="0.8931" stop-color="#6b635f"/><stop offset="0.8947" stop-color="#5b524f"/><stop offset="0.8964" stop-color="#514845"/><stop offset="0.9062" stop-color="#4e4542"/><stop offset="0.9079" stop-color="#534a47"/><stop offset="0.9095" stop-color="#605754"/><stop offset="0.9145" stop-color="#99918d"/><stop offset="0.9161" stop-color="#a8a19c"/><stop offset="0.9178" stop-color="#aea7a2"/><stop offset="1.0000" stop-color="#aca4a0"/>
</linearGradient>
<linearGradient id="g5" gradientUnits="userSpaceOnUse" x1="0" y1="350" x2="0" y2="1566">
<stop offset="0.0000" stop-color="#88807c"/><stop offset="0.0132" stop-color="#807874"/><stop offset="0.0214" stop-color="#554c49"/><stop offset="0.0296" stop-color="#433a37"/><stop offset="0.0428" stop-color="#433a37"/><stop offset="0.0493" stop-color="#645c58"/><stop offset="0.0576" stop-color="#7e7672"/><stop offset="0.0987" stop-color="#8f8783"/><stop offset="0.1020" stop-color="#9f9793"/><stop offset="0.1069" stop-color="#9c9590"/><stop offset="0.1102" stop-color="#938b87"/><stop offset="0.1431" stop-color="#8d8581"/><stop offset="0.1513" stop-color="#7e7672"/><stop offset="0.1579" stop-color="#5c5450"/><stop offset="0.1612" stop-color="#554d49"/><stop offset="0.1661" stop-color="#574e4b"/><stop offset="0.1678" stop-color="#5c5350"/><stop offset="0.1760" stop-color="#8a827e"/><stop offset="0.1809" stop-color="#9b938f"/><stop offset="0.2286" stop-color="#9b938f"/><stop offset="0.2303" stop-color="#98908c"/><stop offset="0.2352" stop-color="#857d79"/><stop offset="0.2401" stop-color="#69615d"/><stop offset="0.2434" stop-color="#5d5451"/><stop offset="0.2467" stop-color="#544b48"/><stop offset="0.2484" stop-color="#524a46"/><stop offset="0.2648" stop-color="#554c49"/><stop offset="0.2681" stop-color="#59504d"/><stop offset="0.2730" stop-color="#6b635f"/><stop offset="0.2780" stop-color="#948c88"/><stop offset="0.2812" stop-color="#aca4a0"/><stop offset="0.3043" stop-color="#b7afab"/><stop offset="0.3372" stop-color="#beb6b2"/><stop offset="0.4161" stop-color="#c0b8b4"/><stop offset="0.4194" stop-color="#bdb6b1"/><stop offset="0.4260" stop-color="#b1a9a5"/><stop offset="0.4293" stop-color="#b1a9a5"/><stop offset="0.4408" stop-color="#c0b9b4"/><stop offset="0.4490" stop-color="#c0b9b4"/><stop offset="0.4556" stop-color="#b6afaa"/><stop offset="0.4589" stop-color="#b4ada8"/><stop offset="0.4622" stop-color="#b5aea9"/><stop offset="0.4688" stop-color="#bfb8b3"/><stop offset="0.4770" stop-color="#b7afab"/><stop offset="0.4885" stop-color="#c2bab6"/><stop offset="0.4967" stop-color="#c1bab5"/><stop offset="0.5049" stop-color="#bcb5b0"/><stop offset="0.5148" stop-color="#c2bbb6"/><stop offset="0.6201" stop-color="#c4bdb8"/><stop offset="0.6299" stop-color="#afa7a3"/><stop offset="0.6316" stop-color="#9a928e"/><stop offset="0.6365" stop-color="#413835"/><stop offset="0.6382" stop-color="#322926"/><stop offset="0.6711" stop-color="#322926"/><stop offset="0.6727" stop-color="#463d3a"/><stop offset="0.6760" stop-color="#7f7773"/><stop offset="0.6776" stop-color="#928b86"/><stop offset="0.6793" stop-color="#968e8a"/><stop offset="0.6908" stop-color="#9d9691"/><stop offset="0.6974" stop-color="#b6afaa"/><stop offset="0.7615" stop-color="#b5aea9"/><stop offset="0.7714" stop-color="#aea6a2"/><stop offset="0.7812" stop-color="#b5aea9"/><stop offset="0.7961" stop-color="#b5aea9"/><stop offset="0.8059" stop-color="#aca4a0"/><stop offset="0.8158" stop-color="#aca5a0"/><stop offset="0.8240" stop-color="#b5ada9"/><stop offset="0.8322" stop-color="#b4ada8"/><stop offset="0.8405" stop-color="#aea7a2"/><stop offset="0.8487" stop-color="#b4ada8"/><stop offset="0.8569" stop-color="#b5ada9"/><stop offset="0.8668" stop-color="#aca5a0"/><stop offset="0.8766" stop-color="#b4ada8"/><stop offset="0.8898" stop-color="#b3aca7"/><stop offset="0.8914" stop-color="#b2aaa6"/><stop offset="0.8931" stop-color="#a79f9b"/><stop offset="0.8980" stop-color="#6d6461"/><stop offset="0.8997" stop-color="#5d5551"/><stop offset="0.9013" stop-color="#544b48"/><stop offset="0.9128" stop-color="#504844"/><stop offset="0.9145" stop-color="#554c49"/><stop offset="0.9161" stop-color="#615955"/><stop offset="0.9211" stop-color="#98918c"/><stop offset="0.9227" stop-color="#a7a09b"/><stop offset="0.9243" stop-color="#ada5a1"/><stop offset="1.0000" stop-color="#aca4a0"/>
</linearGradient>
<linearGradient id="g6" gradientUnits="userSpaceOnUse" x1="0" y1="350" x2="0" y2="1566">
<stop offset="0.0000" stop-color="#88807c"/><stop offset="0.0132" stop-color="#807874"/><stop offset="0.0214" stop-color="#554c49"/><stop offset="0.0296" stop-color="#433a37"/><stop offset="0.0428" stop-color="#433a37"/><stop offset="0.0493" stop-color="#5f5653"/><stop offset="0.0576" stop-color="#79716d"/><stop offset="0.0987" stop-color="#8a827e"/><stop offset="0.1020" stop-color="#9b938f"/><stop offset="0.1053" stop-color="#9b938f"/><stop offset="0.1102" stop-color="#8e8682"/><stop offset="0.1497" stop-color="#88807c"/><stop offset="0.1579" stop-color="#79716d"/><stop offset="0.1645" stop-color="#554c49"/><stop offset="0.1678" stop-color="#4d4441"/><stop offset="0.1727" stop-color="#4f4643"/><stop offset="0.1743" stop-color="#544b48"/><stop offset="0.1826" stop-color="#867e7a"/><stop offset="0.1875" stop-color="#968f8a"/><stop offset="0.2352" stop-color="#968f8a"/><stop offset="0.2401" stop-color="#877f7b"/><stop offset="0.2451" stop-color="#6f6763"/><stop offset="0.2484" stop-color="#645c58"/><stop offset="0.2516" stop-color="#5c5350"/><stop offset="0.2549" stop-color="#5a514e"/><stop offset="0.2730" stop-color="#5d5551"/><stop offset="0.2796" stop-color="#716965"/><stop offset="0.2845" stop-color="#9b938f"/><stop offset="0.2862" stop-color="#a79f9b"/><stop offset="0.2878" stop-color="#aca5a0"/><stop offset="0.3043" stop-color="#b7afab"/><stop offset="0.3372" stop-color="#beb6b2"/><stop offset="0.4161" stop-color="#c0b9b4"/><stop offset="0.4194" stop-color="#beb7b2"/><stop offset="0.4260" stop-color="#b4aca8"/><stop offset="0.4293" stop-color="#b4aca8"/><stop offset="0.4408" stop-color="#c1bab5"/><stop offset="0.4490" stop-color="#c1bab5"/><stop offset="0.4589" stop-color="#b7afab"/><stop offset="0.4622" stop-color="#b8b0ac"/><stop offset="0.4688" stop-color="#c0b9b4"/><stop offset="0.4770" stop-color="#b9b2ad"/><stop offset="0.4885" stop-color="#c3bbb7"/><stop offset="0.4967" stop-color="#c2bbb6"/><stop offset="0.5049" stop-color="#beb7b2"/><stop offset="0.5148" stop-color="#c3bcb7"/><stop offset="0.6283" stop-color="#c5beb9"/><stop offset="0.6365" stop-color="#b2aaa6"/><stop offset="0.6382" stop-color="#a79f9b"/><stop offset="0.6398" stop-color="#8b837f"/><stop offset="0.6431" stop-color="#504744"/><stop offset="0.6447" stop-color="#39302d"/><stop offset="0.6464" stop-color="#322926"/><stop offset="0.6694" stop-color="#322926"/><stop offset="0.6711" stop-color="#332a27"/><stop offset="0.6727" stop-color="#49403d"/><stop offset="0.6760" stop-color="#847c78"/><stop offset="0.6776" stop-color="#9f9793"/><stop offset="0.6793" stop-color="#aba39f"/><stop offset="0.6908" stop-color="#b2aaa6"/><stop offset="0.6990" stop-color="#beb7b2"/><stop offset="0.7615" stop-color="#beb6b2"/><stop offset="0.7714" stop-color="#b8b0ac"/><stop offset="0.7812" stop-color="#beb6b2"/><stop offset="0.7961" stop-color="#beb6b2"/><stop offset="0.8059" stop-color="#b7afab"/><stop offset="0.8158" stop-color="#b7b0ab"/><stop offset="0.8240" stop-color="#bdb6b1"/><stop offset="0.8322" stop-color="#bdb6b1"/><stop offset="0.8405" stop-color="#b8b1ac"/><stop offset="0.8487" stop-color="#bdb5b1"/><stop offset="0.8569" stop-color="#bdb6b1"/><stop offset="0.8668" stop-color="#b7b0ab"/><stop offset="0.8766" stop-color="#bdb6b1"/><stop offset="0.9046" stop-color="#bab3ae"/><stop offset="0.9062" stop-color="#b9b2ad"/><stop offset="0.9079" stop-color="#b5ada9"/><stop offset="0.9128" stop-color="#938b87"/><stop offset="0.9161" stop-color="#847c78"/><stop offset="0.9276" stop-color="#827a76"/><stop offset="0.9293" stop-color="#847c78"/><stop offset="0.9359" stop-color="#ada6a1"/><stop offset="0.9391" stop-color="#b7afab"/><stop offset="1.0000" stop-color="#b7afab"/>
</linearGradient>
<linearGradient id="bb" gradientUnits="userSpaceOnUse" x1="2066" y1="358" x2="2500" y2="1589"><stop offset="0" stop-color="#a59a94"/><stop offset=".55" stop-color="#aaa09a"/><stop offset="1" stop-color="#b2a9a3"/></linearGradient><linearGradient id="sm" x1="0" y1="0" x2="0" y2="1"><stop offset="0" stop-color="#2a2320" stop-opacity=".13"/><stop offset=".5" stop-color="#2a2320" stop-opacity=".07"/><stop offset="1" stop-color="#2a2320" stop-opacity="0"/></linearGradient>
</defs>
<g clip-path="url(#cg)">
<rect x="405" y="345" width="1240" height="1230" fill="#dfd8d3"/>

<g filter="url(#b3)">
<path d="M447.0 340 L447.0 346 L447.0 352 L446.9 358 L446.9 364 L446.9 370 L446.9 376 L446.8 382 L446.8 388 L446.8 394 L446.8 400 L446.8 406 L446.7 412 L446.7 418 L446.7 424 L446.7 430 L446.6 436 L446.6 442 L446.6 448 L446.6 454 L446.6 460 L446.5 466 L446.5 472 L446.5 478 L446.5 484 L446.4 490 L446.4 496 L446.4 502 L446.4 508 L446.4 514 L446.3 520 L446.3 526 L446.3 532 L446.3 538 L446.2 544 L446.2 550 L446.2 556 L446.2 562 L446.2 568 L446.1 574 L446.1 580 L446.1 586 L446.1 592 L446.0 598 L446.0 604 L446.0 610 L443.9 616 L441.8 622 L439.7 628 L433.8 634 L429.2 640 L425.6 646 L423.0 652 L422.1 658 L421.5 664 L421.2 670 L421.2 676 L421.6 682 L422.2 688 L423.4 694 L425.2 700 L431.1 706 L432.1 712 L433.1 718 L434.2 724 L435.2 730 L436.3 736 L436.9 742 L436.8 748 L436.6 754 L436.4 760 L436.2 766 L436.0 772 L435.8 778 L435.6 784 L435.4 790 L435.2 796 L435.1 802 L434.9 808 L434.7 814 L434.5 820 L434.3 826 L434.1 832 L433.9 838 L433.8 844 L433.6 850 L433.4 856 L433.2 862 L433.0 868 L432.8 874 L432.6 880 L432.4 886 L432.2 892 L432.1 898 L431.7 904 L431.3 910 L430.9 916 L430.5 922 L430.1 928 L429.7 934 L429.3 940 L428.9 946 L428.5 952 L428.1 958 L427.1 964 L425.8 970 L424.4 976 L423.1 982 L421.7 988 L420.4 994 L419.0 1000 L418.5 1006 L418.0 1012 L417.5 1018 L417.0 1024 L416.5 1030 L416.0 1036 L415.5 1042 L415.0 1048 L414.5 1054 L414.0 1060 L414.0 1066 L414.0 1072 L413.9 1078 L413.9 1084 L413.9 1090 L413.9 1096 L413.8 1102 L413.8 1108 L413.8 1114 L413.8 1120 L413.7 1126 L413.7 1132 L413.7 1138 L413.7 1144 L413.7 1150 L413.6 1156 L413.6 1162 L413.6 1168 L413.6 1174 L413.5 1180 L413.5 1186 L413.5 1192 L413.5 1198 L413.4 1204 L413.4 1210 L413.4 1216 L413.4 1222 L413.4 1228 L413.3 1234 L413.3 1240 L413.3 1246 L413.3 1252 L413.2 1258 L413.2 1264 L413.2 1270 L413.2 1276 L413.1 1282 L413.1 1288 L413.1 1294 L413.1 1300 L413.1 1306 L413.0 1312 L413.0 1318 L413.0 1324 L413.0 1330 L412.9 1336 L412.9 1342 L412.9 1348 L412.9 1354 L412.8 1360 L412.8 1366 L412.8 1372 L412.8 1378 L412.8 1384 L412.7 1390 L412.7 1396 L412.7 1402 L412.7 1408 L412.6 1414 L412.6 1420 L412.6 1426 L412.6 1432 L412.5 1438 L412.5 1444 L412.5 1450 L412.5 1456 L412.5 1462 L412.4 1468 L412.4 1474 L412.4 1480 L412.4 1486 L412.3 1492 L412.3 1498 L412.3 1504 L412.3 1510 L412.2 1516 L412.2 1522 L412.2 1528 L412.2 1534 L412.2 1540 L412.1 1546 L412.1 1552 L412.1 1558 L412.1 1564 L412.0 1570 L412.0 1576 L556.0 1576 L556.0 1570 L556.0 1564 L556.1 1558 L556.1 1552 L556.1 1546 L556.1 1540 L556.1 1534 L556.1 1528 L556.1 1522 L556.2 1516 L556.2 1510 L556.2 1504 L556.2 1498 L556.2 1492 L556.2 1486 L558.1 1480 L559.3 1474 L559.9 1468 L560.2 1462 L560.3 1456 L560.0 1450 L559.5 1444 L558.5 1438 L556.4 1432 L556.4 1426 L556.4 1420 L556.4 1414 L556.4 1408 L556.4 1402 L556.4 1396 L556.5 1390 L556.5 1384 L556.5 1378 L556.5 1372 L556.5 1366 L556.5 1360 L556.5 1354 L556.6 1348 L556.6 1342 L556.6 1336 L556.6 1330 L556.6 1324 L556.6 1318 L556.6 1312 L556.7 1306 L556.7 1300 L556.7 1294 L556.7 1288 L556.7 1282 L556.7 1276 L556.7 1270 L556.8 1264 L556.8 1258 L556.8 1252 L556.8 1246 L556.8 1240 L556.8 1234 L556.8 1228 L556.9 1222 L556.9 1216 L556.9 1210 L556.9 1204 L556.9 1198 L556.9 1192 L556.9 1186 L557.0 1180 L561.1 1174 L563.2 1168 L564.5 1162 L565.4 1156 L565.9 1150 L566.0 1144 L565.9 1138 L565.3 1132 L564.4 1126 L563.0 1120 L560.7 1114 L557.1 1108 L557.1 1102 L557.2 1096 L557.2 1090 L557.2 1084 L557.2 1078 L557.2 1072 L557.2 1066 L557.2 1060 L557.3 1054 L557.3 1048 L557.3 1042 L557.3 1036 L557.3 1030 L557.3 1024 L557.3 1018 L557.4 1012 L557.4 1006 L557.4 1000 L557.4 994 L557.4 988 L557.4 982 L557.4 976 L557.5 970 L557.5 964 L557.5 958 L557.5 952 L557.5 946 L557.5 940 L557.5 934 L557.6 928 L557.6 922 L557.6 916 L557.6 910 L557.6 904 L557.6 898 L557.6 892 L557.7 886 L557.7 880 L557.7 874 L557.7 868 L557.7 862 L557.7 856 L557.7 850 L557.8 844 L557.8 838 L557.8 832 L557.8 826 L557.8 820 L557.8 814 L557.8 808 L557.9 802 L557.9 796 L557.9 790 L557.9 784 L557.9 778 L557.9 772 L557.9 766 L558.0 760 L558.0 754 L558.0 748 L558.0 742 L558.7 736 L559.8 730 L560.8 724 L561.9 718 L562.9 712 L564.0 706 L566.4 700 L567.1 694 L567.5 688 L567.7 682 L567.9 676 L568.0 670 L568.0 664 L567.9 658 L567.7 652 L567.0 646 L566.1 640 L564.9 634 L563.4 628 L562.9 622 L562.5 616 L562.0 610 L562.0 604 L562.0 598 L562.0 592 L562.0 586 L562.0 580 L562.0 574 L562.0 568 L562.0 562 L562.0 556 L562.0 550 L562.0 544 L562.0 538 L562.0 532 L562.0 526 L562.0 520 L562.0 514 L562.0 508 L562.0 502 L562.0 496 L562.0 490 L562.0 484 L562.0 478 L562.0 472 L562.0 466 L562.0 460 L562.0 454 L562.0 448 L562.0 442 L562.0 436 L562.0 430 L562.0 424 L562.0 418 L562.0 412 L562.0 406 L562.0 400 L562.0 394 L562.0 388 L562.0 382 L562.0 376 L562.0 370 L562.0 364 L562.0 358 L562.0 352 L562.0 346 L562.0 340Z" fill="url(#g0)"/>
<path d="M413.9 1084 L413.7 1126 L429.7 1126 Q421.9 1118 417.9 1084Z" fill="#2c2421" opacity="0.35"/>
<path d="M557.2 1084 L564.4 1126 L548.4 1126 Q549.2 1118 553.2 1084Z" fill="#2c2421" opacity="0.35"/>
<path d="M447.0 340 L447.0 346 L447.0 352 L446.9 358 L446.9 364 L446.9 370 L446.9 376 L446.8 382 L446.8 388 L446.8 394 L446.8 400 L446.8 406 L446.7 412 L446.7 418 L446.7 424 L446.7 430 L446.6 436 L446.6 442 L446.6 448 L446.6 454 L446.6 460 L446.5 466 L446.5 472 L446.5 478 L446.5 484 L446.4 490 L446.4 496 L446.4 502 L446.4 508 L446.4 514 L446.3 520 L446.3 526 L446.3 532 L446.3 538 L446.2 544 L446.2 550 L446.2 556 L446.2 562 L446.2 568 L446.1 574 L446.1 580 L446.1 586 L446.1 592 L446.0 598 L446.0 604 L446.0 610 L443.9 616 L441.8 622 L439.7 628 L433.8 634 L429.2 640 L425.6 646 L423.0 652 L422.1 658 L421.5 664 L421.2 670 L421.2 676 L421.6 682 L422.2 688 L423.4 694 L425.2 700 L431.1 706 L432.1 712 L433.1 718 L434.2 724 L435.2 730 L436.3 736 L436.9 742 L449.9 742 L460.0 340Z" fill="#2a211d" opacity="0.170"/><path d="M562.0 340 L562.0 346 L562.0 352 L562.0 358 L562.0 364 L562.0 370 L562.0 376 L562.0 382 L562.0 388 L562.0 394 L562.0 400 L562.0 406 L562.0 412 L562.0 418 L562.0 424 L562.0 430 L562.0 436 L562.0 442 L562.0 448 L562.0 454 L562.0 460 L562.0 466 L562.0 472 L562.0 478 L562.0 484 L562.0 490 L562.0 496 L562.0 502 L562.0 508 L562.0 514 L562.0 520 L562.0 526 L562.0 532 L562.0 538 L562.0 544 L562.0 550 L562.0 556 L562.0 562 L562.0 568 L562.0 574 L562.0 580 L562.0 586 L562.0 592 L562.0 598 L562.0 604 L562.0 610 L562.5 616 L562.9 622 L563.4 628 L564.9 634 L566.1 640 L567.0 646 L567.7 652 L567.9 658 L568.0 664 L568.0 670 L567.9 676 L567.7 682 L567.5 688 L567.1 694 L566.4 700 L564.0 706 L562.9 712 L561.9 718 L560.8 724 L559.8 730 L558.7 736 L558.0 742 L545.0 742 L549.0 340Z" fill="#2a211d" opacity="0.170"/>
<path d="M436.9 742 L436.8 748 L436.6 754 L436.4 760 L436.2 766 L436.0 772 L435.8 778 L435.6 784 L435.4 790 L435.2 796 L435.1 802 L434.9 808 L434.7 814 L434.5 820 L434.3 826 L434.1 832 L433.9 838 L433.8 844 L433.6 850 L433.4 856 L433.2 862 L433.0 868 L432.8 874 L432.6 880 L432.4 886 L432.2 892 L432.1 898 L431.7 904 L431.3 910 L430.9 916 L430.5 922 L430.1 928 L429.7 934 L429.3 940 L428.9 946 L428.5 952 L428.1 958 L427.1 964 L425.8 970 L424.4 976 L423.1 982 L421.7 988 L420.4 994 L419.0 1000 L418.5 1006 L418.0 1012 L417.5 1018 L417.0 1024 L416.5 1030 L416.0 1036 L415.5 1042 L415.0 1048 L414.5 1054 L414.0 1060 L414.0 1066 L414.0 1072 L413.9 1078 L413.9 1084 L413.9 1090 L413.9 1096 L413.8 1102 L413.8 1108 L413.8 1114 L413.8 1120 L413.7 1126 L413.7 1132 L413.7 1138 L413.7 1144 L413.7 1150 L413.6 1156 L413.6 1162 L413.6 1168 L413.6 1174 L413.5 1180 L413.5 1186 L413.5 1192 L413.5 1198 L413.4 1204 L413.4 1210 L413.4 1216 L413.4 1222 L413.4 1228 L413.3 1234 L413.3 1240 L413.3 1246 L413.3 1252 L413.2 1258 L413.2 1264 L413.2 1270 L413.2 1276 L413.1 1282 L413.1 1288 L413.1 1294 L413.1 1300 L413.1 1306 L413.0 1312 L413.0 1318 L413.0 1324 L413.0 1330 L412.9 1336 L412.9 1342 L412.9 1348 L412.9 1354 L412.8 1360 L412.8 1366 L412.8 1372 L412.8 1378 L412.8 1384 L412.7 1390 L412.7 1396 L412.7 1402 L412.7 1408 L412.6 1414 L412.6 1420 L412.6 1426 L412.6 1432 L412.5 1438 L412.5 1444 L412.5 1450 L412.5 1456 L412.5 1462 L412.4 1468 L412.4 1474 L412.4 1480 L412.4 1486 L412.3 1492 L412.3 1498 L412.3 1504 L412.3 1510 L412.2 1516 L412.2 1522 L412.2 1528 L412.2 1534 L412.2 1540 L412.1 1546 L412.1 1552 L412.1 1558 L412.1 1564 L412.0 1570 L412.0 1576 L425.0 1576 L449.9 742Z" fill="#2a211d" opacity="0.094"/><path d="M558.0 742 L558.0 748 L558.0 754 L558.0 760 L557.9 766 L557.9 772 L557.9 778 L557.9 784 L557.9 790 L557.9 796 L557.9 802 L557.8 808 L557.8 814 L557.8 820 L557.8 826 L557.8 832 L557.8 838 L557.8 844 L557.7 850 L557.7 856 L557.7 862 L557.7 868 L557.7 874 L557.7 880 L557.7 886 L557.6 892 L557.6 898 L557.6 904 L557.6 910 L557.6 916 L557.6 922 L557.6 928 L557.5 934 L557.5 940 L557.5 946 L557.5 952 L557.5 958 L557.5 964 L557.5 970 L557.4 976 L557.4 982 L557.4 988 L557.4 994 L557.4 1000 L557.4 1006 L557.4 1012 L557.3 1018 L557.3 1024 L557.3 1030 L557.3 1036 L557.3 1042 L557.3 1048 L557.3 1054 L557.2 1060 L557.2 1066 L557.2 1072 L557.2 1078 L557.2 1084 L557.2 1090 L557.2 1096 L557.1 1102 L557.1 1108 L560.7 1114 L563.0 1120 L564.4 1126 L565.3 1132 L565.9 1138 L566.0 1144 L565.9 1150 L565.4 1156 L564.5 1162 L563.2 1168 L561.1 1174 L557.0 1180 L556.9 1186 L556.9 1192 L556.9 1198 L556.9 1204 L556.9 1210 L556.9 1216 L556.9 1222 L556.8 1228 L556.8 1234 L556.8 1240 L556.8 1246 L556.8 1252 L556.8 1258 L556.8 1264 L556.7 1270 L556.7 1276 L556.7 1282 L556.7 1288 L556.7 1294 L556.7 1300 L556.7 1306 L556.6 1312 L556.6 1318 L556.6 1324 L556.6 1330 L556.6 1336 L556.6 1342 L556.6 1348 L556.5 1354 L556.5 1360 L556.5 1366 L556.5 1372 L556.5 1378 L556.5 1384 L556.5 1390 L556.4 1396 L556.4 1402 L556.4 1408 L556.4 1414 L556.4 1420 L556.4 1426 L556.4 1432 L558.5 1438 L559.5 1444 L560.0 1450 L560.3 1456 L560.2 1462 L559.9 1468 L559.3 1474 L558.1 1480 L556.2 1486 L556.2 1492 L556.2 1498 L556.2 1504 L556.2 1510 L556.2 1516 L556.1 1522 L556.1 1528 L556.1 1534 L556.1 1540 L556.1 1546 L556.1 1552 L556.1 1558 L556.0 1564 L556.0 1570 L556.0 1576 L543.0 1576 L545.0 742Z" fill="#2a211d" opacity="0.094"/>
<path d="M621.0 340 L621.0 346 L620.9 352 L620.9 358 L620.8 364 L620.8 370 L620.7 376 L620.6 382 L620.6 388 L620.5 394 L620.5 400 L620.5 406 L620.4 412 L620.4 418 L620.3 424 L620.2 430 L620.2 436 L620.1 442 L620.1 448 L620.0 454 L620.0 460 L620.0 466 L619.9 472 L619.9 478 L619.8 484 L619.8 490 L619.7 496 L619.6 502 L619.6 508 L619.5 514 L619.5 520 L619.5 526 L616.8 532 L615.2 538 L614.5 544 L614.3 550 L614.5 556 L615.4 562 L617.3 568 L619.0 574 L619.0 580 L619.0 586 L618.9 592 L618.9 598 L618.8 604 L618.8 610 L618.7 616 L618.6 622 L618.6 628 L616.5 634 L614.8 640 L613.7 646 L613.0 652 L612.5 658 L612.3 664 L612.3 670 L612.5 676 L612.9 682 L613.7 688 L614.8 694 L616.9 700 L617.9 706 L617.8 712 L617.8 718 L617.7 724 L617.6 730 L617.5 736 L617.4 742 L617.4 748 L617.3 754 L617.2 760 L617.1 766 L617.0 772 L617.0 778 L616.9 784 L616.8 790 L616.7 796 L616.6 802 L616.6 808 L616.5 814 L616.4 820 L616.3 826 L616.2 832 L616.2 838 L616.1 844 L616.0 850 L615.9 856 L615.8 862 L615.8 868 L615.7 874 L615.6 880 L615.5 886 L615.4 892 L615.4 898 L615.3 904 L615.2 910 L615.1 916 L615.0 922 L615.0 928 L614.9 934 L614.8 940 L614.7 946 L614.6 952 L614.6 958 L614.5 964 L614.4 970 L614.3 976 L614.2 982 L614.2 988 L614.1 994 L614.0 1000 L613.6 1006 L613.3 1012 L612.9 1018 L612.6 1024 L612.2 1030 L611.8 1036 L611.5 1042 L611.1 1048 L610.8 1054 L610.4 1060 L610.0 1066 L609.7 1072 L609.3 1078 L609.0 1084 L608.6 1090 L608.2 1096 L608.0 1102 L607.9 1108 L602.1 1114 L599.6 1120 L597.9 1126 L596.7 1132 L596.0 1138 L595.6 1144 L595.7 1150 L596.1 1156 L596.9 1162 L598.3 1168 L600.2 1174 L603.4 1180 L607.3 1186 L607.2 1192 L607.2 1198 L607.1 1204 L607.1 1210 L607.0 1216 L607.0 1222 L606.9 1228 L606.9 1234 L606.8 1240 L606.8 1246 L606.7 1252 L606.7 1258 L606.6 1264 L606.6 1270 L606.5 1276 L606.5 1282 L606.4 1288 L606.4 1294 L606.3 1300 L606.3 1306 L606.2 1312 L606.2 1318 L606.1 1324 L606.1 1330 L606.0 1336 L606.0 1342 L605.9 1348 L605.9 1354 L605.8 1360 L605.8 1366 L605.7 1372 L605.7 1378 L605.6 1384 L605.6 1390 L605.5 1396 L605.5 1402 L605.4 1408 L605.4 1414 L605.3 1420 L605.3 1426 L602.6 1432 L600.9 1438 L599.9 1444 L599.3 1450 L599.0 1456 L599.1 1462 L599.5 1468 L600.2 1474 L601.5 1480 L604.8 1486 L604.7 1492 L604.7 1498 L604.6 1504 L604.6 1510 L604.5 1516 L604.5 1522 L604.4 1528 L604.4 1534 L604.3 1540 L604.3 1546 L604.2 1552 L604.2 1558 L604.1 1564 L604.1 1570 L604.0 1576 L729.0 1576 L729.0 1570 L729.1 1564 L729.1 1558 L729.1 1552 L729.1 1546 L729.2 1540 L729.2 1534 L729.2 1528 L729.2 1522 L729.3 1516 L729.3 1510 L729.3 1504 L729.3 1498 L729.4 1492 L729.4 1486 L732.2 1480 L733.3 1474 L734.0 1468 L734.4 1462 L734.5 1456 L734.4 1450 L733.9 1444 L733.2 1438 L731.8 1432 L729.6 1426 L729.7 1420 L729.7 1414 L729.7 1408 L729.7 1402 L729.8 1396 L729.8 1390 L729.8 1384 L729.8 1378 L729.9 1372 L729.9 1366 L729.9 1360 L729.9 1354 L730.0 1348 L730.0 1342 L730.0 1336 L730.0 1330 L730.1 1324 L730.1 1318 L730.1 1312 L730.1 1306 L730.2 1300 L730.2 1294 L730.2 1288 L730.2 1282 L730.3 1276 L730.3 1270 L730.3 1264 L730.3 1258 L730.4 1252 L730.4 1246 L730.4 1240 L730.4 1234 L730.5 1228 L730.5 1222 L730.5 1216 L730.5 1210 L730.6 1204 L730.6 1198 L730.6 1192 L730.6 1186 L734.6 1180 L737.8 1174 L739.9 1168 L741.3 1162 L742.2 1156 L742.7 1150 L742.8 1144 L742.6 1138 L741.9 1132 L740.8 1126 L739.2 1120 L736.7 1114 L731.0 1108 L731.0 1102 L731.0 1096 L731.1 1090 L731.1 1084 L731.2 1078 L731.2 1072 L731.3 1066 L731.3 1060 L731.3 1054 L731.4 1048 L731.4 1042 L731.5 1036 L731.5 1030 L731.6 1024 L731.6 1018 L731.7 1012 L731.7 1006 L731.8 1000 L731.8 994 L731.8 988 L731.9 982 L731.9 976 L732.0 970 L732.0 964 L732.1 958 L732.1 952 L732.2 946 L732.2 940 L732.2 934 L732.3 928 L732.3 922 L732.4 916 L732.4 910 L732.5 904 L732.5 898 L732.6 892 L732.6 886 L732.6 880 L732.7 874 L732.7 868 L732.8 862 L732.8 856 L732.9 850 L732.9 844 L733.0 838 L733.0 832 L733.1 826 L733.1 820 L733.1 814 L733.2 808 L733.2 802 L733.3 796 L733.3 790 L733.4 784 L733.4 778 L733.5 772 L733.5 766 L733.5 760 L733.6 754 L733.6 748 L733.7 742 L733.7 736 L733.8 730 L733.8 724 L733.9 718 L733.9 712 L734.0 706 L734.5 700 L735.6 694 L736.3 688 L736.7 682 L736.9 676 L737.1 670 L737.1 664 L737.0 658 L736.8 652 L736.5 646 L736.0 640 L735.2 634 L734.2 628 L734.2 622 L734.2 616 L734.2 610 L734.3 604 L734.3 598 L734.3 592 L734.3 586 L734.3 580 L734.4 574 L735.4 568 L736.6 562 L737.2 556 L737.4 550 L737.3 544 L736.9 538 L736.0 532 L734.5 526 L734.5 520 L734.5 514 L734.5 508 L734.5 502 L734.6 496 L734.6 490 L734.6 484 L734.6 478 L734.6 472 L734.6 466 L734.7 460 L734.7 454 L734.7 448 L734.7 442 L734.7 436 L734.8 430 L734.8 424 L734.8 418 L734.8 412 L734.8 406 L734.8 400 L734.9 394 L734.9 388 L734.9 382 L734.9 376 L734.9 370 L734.9 364 L735.0 358 L735.0 352 L735.0 346 L735.0 340Z" fill="url(#g1)"/>
<path d="M609.6 1074 L598.4 1124 L616.4 1124 Q618.6 1116 613.6 1074Z" fill="#2c2421" opacity="0.4"/>
<path d="M731.2 1074 L740.3 1124 L722.3 1124 Q722.2 1116 727.2 1074Z" fill="#2c2421" opacity="0.4"/>
<path d="M621.0 340 L621.0 346 L620.9 352 L620.9 358 L620.8 364 L620.8 370 L620.7 376 L620.6 382 L620.6 388 L620.5 394 L620.5 400 L620.5 406 L620.4 412 L620.4 418 L620.3 424 L620.2 430 L620.2 436 L620.1 442 L620.1 448 L620.0 454 L620.0 460 L620.0 466 L619.9 472 L619.9 478 L619.8 484 L619.8 490 L619.7 496 L619.6 502 L619.6 508 L619.5 514 L619.5 520 L619.5 526 L616.8 532 L615.2 538 L614.5 544 L614.3 550 L614.5 556 L615.4 562 L617.3 568 L619.0 574 L619.0 580 L619.0 586 L618.9 592 L618.9 598 L618.8 604 L618.8 610 L618.7 616 L618.6 622 L618.6 628 L616.5 634 L614.8 640 L613.7 646 L613.0 652 L612.5 658 L612.3 664 L612.3 670 L612.5 676 L612.9 682 L613.7 688 L614.8 694 L616.9 700 L617.9 706 L617.8 712 L617.8 718 L617.7 724 L617.6 730 L617.5 736 L617.4 742 L630.4 742 L634.0 340Z" fill="#2a211d" opacity="0.170"/><path d="M735.0 340 L735.0 346 L735.0 352 L735.0 358 L734.9 364 L734.9 370 L734.9 376 L734.9 382 L734.9 388 L734.9 394 L734.8 400 L734.8 406 L734.8 412 L734.8 418 L734.8 424 L734.8 430 L734.7 436 L734.7 442 L734.7 448 L734.7 454 L734.7 460 L734.6 466 L734.6 472 L734.6 478 L734.6 484 L734.6 490 L734.6 496 L734.5 502 L734.5 508 L734.5 514 L734.5 520 L734.5 526 L736.0 532 L736.9 538 L737.3 544 L737.4 550 L737.2 556 L736.6 562 L735.4 568 L734.4 574 L734.3 580 L734.3 586 L734.3 592 L734.3 598 L734.3 604 L734.2 610 L734.2 616 L734.2 622 L734.2 628 L735.2 634 L736.0 640 L736.5 646 L736.8 652 L737.0 658 L737.1 664 L737.1 670 L736.9 676 L736.7 682 L736.3 688 L735.6 694 L734.5 700 L734.0 706 L733.9 712 L733.9 718 L733.8 724 L733.8 730 L733.7 736 L733.7 742 L720.7 742 L722.0 340Z" fill="#2a211d" opacity="0.170"/>
<path d="M617.4 742 L617.4 748 L617.3 754 L617.2 760 L617.1 766 L617.0 772 L617.0 778 L616.9 784 L616.8 790 L616.7 796 L616.6 802 L616.6 808 L616.5 814 L616.4 820 L616.3 826 L616.2 832 L616.2 838 L616.1 844 L616.0 850 L615.9 856 L615.8 862 L615.8 868 L615.7 874 L615.6 880 L615.5 886 L615.4 892 L615.4 898 L615.3 904 L615.2 910 L615.1 916 L615.0 922 L615.0 928 L614.9 934 L614.8 940 L614.7 946 L614.6 952 L614.6 958 L614.5 964 L614.4 970 L614.3 976 L614.2 982 L614.2 988 L614.1 994 L614.0 1000 L613.6 1006 L613.3 1012 L612.9 1018 L612.6 1024 L612.2 1030 L611.8 1036 L611.5 1042 L611.1 1048 L610.8 1054 L610.4 1060 L610.0 1066 L609.7 1072 L609.3 1078 L609.0 1084 L608.6 1090 L608.2 1096 L608.0 1102 L607.9 1108 L602.1 1114 L599.6 1120 L597.9 1126 L596.7 1132 L596.0 1138 L595.6 1144 L595.7 1150 L596.1 1156 L596.9 1162 L598.3 1168 L600.2 1174 L603.4 1180 L607.3 1186 L607.2 1192 L607.2 1198 L607.1 1204 L607.1 1210 L607.0 1216 L607.0 1222 L606.9 1228 L606.9 1234 L606.8 1240 L606.8 1246 L606.7 1252 L606.7 1258 L606.6 1264 L606.6 1270 L606.5 1276 L606.5 1282 L606.4 1288 L606.4 1294 L606.3 1300 L606.3 1306 L606.2 1312 L606.2 1318 L606.1 1324 L606.1 1330 L606.0 1336 L606.0 1342 L605.9 1348 L605.9 1354 L605.8 1360 L605.8 1366 L605.7 1372 L605.7 1378 L605.6 1384 L605.6 1390 L605.5 1396 L605.5 1402 L605.4 1408 L605.4 1414 L605.3 1420 L605.3 1426 L602.6 1432 L600.9 1438 L599.9 1444 L599.3 1450 L599.0 1456 L599.1 1462 L599.5 1468 L600.2 1474 L601.5 1480 L604.8 1486 L604.7 1492 L604.7 1498 L604.6 1504 L604.6 1510 L604.5 1516 L604.5 1522 L604.4 1528 L604.4 1534 L604.3 1540 L604.3 1546 L604.2 1552 L604.2 1558 L604.1 1564 L604.1 1570 L604.0 1576 L617.0 1576 L630.4 742Z" fill="#2a211d" opacity="0.094"/><path d="M733.7 742 L733.6 748 L733.6 754 L733.5 760 L733.5 766 L733.5 772 L733.4 778 L733.4 784 L733.3 790 L733.3 796 L733.2 802 L733.2 808 L733.1 814 L733.1 820 L733.1 826 L733.0 832 L733.0 838 L732.9 844 L732.9 850 L732.8 856 L732.8 862 L732.7 868 L732.7 874 L732.6 880 L732.6 886 L732.6 892 L732.5 898 L732.5 904 L732.4 910 L732.4 916 L732.3 922 L732.3 928 L732.2 934 L732.2 940 L732.2 946 L732.1 952 L732.1 958 L732.0 964 L732.0 970 L731.9 976 L731.9 982 L731.8 988 L731.8 994 L731.8 1000 L731.7 1006 L731.7 1012 L731.6 1018 L731.6 1024 L731.5 1030 L731.5 1036 L731.4 1042 L731.4 1048 L731.3 1054 L731.3 1060 L731.3 1066 L731.2 1072 L731.2 1078 L731.1 1084 L731.1 1090 L731.0 1096 L731.0 1102 L731.0 1108 L736.7 1114 L739.2 1120 L740.8 1126 L741.9 1132 L742.6 1138 L742.8 1144 L742.7 1150 L742.2 1156 L741.3 1162 L739.9 1168 L737.8 1174 L734.6 1180 L730.6 1186 L730.6 1192 L730.6 1198 L730.6 1204 L730.5 1210 L730.5 1216 L730.5 1222 L730.5 1228 L730.4 1234 L730.4 1240 L730.4 1246 L730.4 1252 L730.3 1258 L730.3 1264 L730.3 1270 L730.3 1276 L730.2 1282 L730.2 1288 L730.2 1294 L730.2 1300 L730.1 1306 L730.1 1312 L730.1 1318 L730.1 1324 L730.0 1330 L730.0 1336 L730.0 1342 L730.0 1348 L729.9 1354 L729.9 1360 L729.9 1366 L729.9 1372 L729.8 1378 L729.8 1384 L729.8 1390 L729.8 1396 L729.7 1402 L729.7 1408 L729.7 1414 L729.7 1420 L729.6 1426 L731.8 1432 L733.2 1438 L733.9 1444 L734.4 1450 L734.5 1456 L734.4 1462 L734.0 1468 L733.3 1474 L732.2 1480 L729.4 1486 L729.4 1492 L729.3 1498 L729.3 1504 L729.3 1510 L729.3 1516 L729.2 1522 L729.2 1528 L729.2 1534 L729.2 1540 L729.1 1546 L729.1 1552 L729.1 1558 L729.1 1564 L729.0 1570 L729.0 1576 L716.0 1576 L720.7 742Z" fill="#2a211d" opacity="0.094"/>
<path d="M795.0 340 L795.0 346 L794.9 352 L794.9 358 L794.9 364 L794.9 370 L794.8 376 L794.8 382 L794.8 388 L794.8 394 L794.7 400 L794.7 406 L794.7 412 L794.6 418 L794.6 424 L794.6 430 L794.6 436 L794.5 442 L794.5 448 L794.5 454 L794.5 460 L794.4 466 L794.4 472 L794.4 478 L794.3 484 L794.3 490 L794.3 496 L794.3 502 L794.2 508 L794.2 514 L794.2 520 L794.2 526 L790.6 532 L789.0 538 L788.2 544 L788.1 550 L788.5 556 L789.5 562 L791.8 568 L793.9 574 L793.9 580 L793.9 586 L793.9 592 L793.8 598 L793.8 604 L793.8 610 L793.7 616 L793.7 622 L793.7 628 L791.2 634 L789.1 640 L787.8 646 L787.1 652 L786.6 658 L786.5 664 L786.7 670 L787.3 676 L788.2 682 L789.7 688 L793.4 694 L793.4 700 L793.3 706 L793.3 712 L793.3 718 L793.3 724 L793.2 730 L793.2 736 L793.2 742 L793.1 748 L793.1 754 L793.1 760 L793.1 766 L793.0 772 L793.0 778 L793.0 784 L793.0 790 L792.9 796 L792.9 802 L792.9 808 L792.8 814 L792.8 820 L792.8 826 L792.8 832 L792.7 838 L792.7 844 L792.7 850 L792.7 856 L792.6 862 L792.6 868 L792.6 874 L792.5 880 L792.5 886 L792.5 892 L792.5 898 L792.4 904 L792.4 910 L792.4 916 L792.4 922 L792.3 928 L792.3 934 L792.3 940 L792.2 946 L792.2 952 L792.2 958 L792.2 964 L792.1 970 L792.1 976 L792.1 982 L792.1 988 L792.0 994 L792.0 1000 L791.6 1006 L791.3 1012 L790.9 1018 L790.6 1024 L790.2 1030 L789.8 1036 L789.5 1042 L789.1 1048 L788.8 1054 L788.4 1060 L788.0 1066 L787.7 1072 L787.3 1078 L787.0 1084 L786.6 1090 L786.2 1096 L786.0 1102 L785.9 1108 L785.8 1114 L779.5 1120 L776.2 1126 L774.0 1132 L772.6 1138 L771.7 1144 L771.4 1150 L771.5 1156 L772.1 1162 L773.3 1168 L775.2 1174 L778.1 1180 L784.9 1186 L784.9 1192 L784.8 1198 L784.7 1204 L784.6 1210 L784.5 1216 L784.5 1222 L784.4 1228 L784.3 1234 L784.2 1240 L784.2 1246 L784.1 1252 L784.0 1258 L784.0 1264 L783.9 1270 L783.8 1276 L783.7 1282 L783.6 1288 L783.6 1294 L783.5 1300 L783.4 1306 L783.4 1312 L783.3 1318 L783.2 1324 L783.1 1330 L783.0 1336 L783.0 1342 L782.9 1348 L782.8 1354 L782.8 1360 L782.7 1366 L782.6 1372 L782.5 1378 L782.5 1384 L782.4 1390 L782.3 1396 L782.2 1402 L782.1 1408 L782.1 1414 L782.0 1420 L780.2 1426 L776.6 1432 L774.9 1438 L773.9 1444 L773.6 1450 L773.9 1456 L774.8 1462 L776.6 1468 L781.3 1474 L781.2 1480 L781.2 1486 L781.1 1492 L781.0 1498 L781.0 1504 L780.9 1510 L780.8 1516 L780.7 1522 L780.6 1528 L780.6 1534 L780.5 1540 L780.4 1546 L780.4 1552 L780.3 1558 L780.2 1564 L780.1 1570 L780.0 1576 L900.0 1576 L900.1 1570 L900.2 1564 L900.2 1558 L900.3 1552 L900.4 1546 L900.4 1540 L900.5 1534 L900.5 1528 L900.6 1522 L900.7 1516 L900.7 1510 L900.8 1504 L900.8 1498 L900.9 1492 L901.0 1486 L901.0 1480 L901.1 1474 L904.8 1468 L906.2 1462 L907.0 1456 L907.3 1450 L907.2 1444 L906.6 1438 L905.4 1432 L902.9 1426 L901.7 1420 L901.7 1414 L901.8 1408 L901.8 1402 L901.9 1396 L902.0 1390 L902.0 1384 L902.1 1378 L902.2 1372 L902.2 1366 L902.3 1360 L902.3 1354 L902.4 1348 L902.5 1342 L902.5 1336 L902.6 1330 L902.6 1324 L902.7 1318 L902.8 1312 L902.8 1306 L902.9 1300 L903.0 1294 L903.0 1288 L903.1 1282 L903.1 1276 L903.2 1270 L903.3 1264 L903.3 1258 L903.4 1252 L903.5 1246 L903.5 1240 L903.6 1234 L903.6 1228 L903.7 1222 L903.8 1216 L903.8 1210 L903.9 1204 L904.0 1198 L904.0 1192 L904.1 1186 L910.1 1180 L912.7 1174 L914.4 1168 L915.6 1162 L916.2 1156 L916.4 1150 L916.3 1144 L915.7 1138 L914.6 1132 L912.8 1126 L910.1 1120 L904.8 1114 L904.9 1108 L904.9 1102 L905.0 1096 L905.1 1090 L905.1 1084 L905.2 1078 L905.3 1072 L905.3 1066 L905.4 1060 L905.4 1054 L905.5 1048 L905.6 1042 L905.6 1036 L905.7 1030 L905.8 1024 L905.8 1018 L905.9 1012 L905.9 1006 L906.0 1000 L906.0 994 L906.0 988 L906.1 982 L906.1 976 L906.1 970 L906.1 964 L906.1 958 L906.1 952 L906.2 946 L906.2 940 L906.2 934 L906.2 928 L906.2 922 L906.3 916 L906.3 910 L906.3 904 L906.3 898 L906.3 892 L906.3 886 L906.4 880 L906.4 874 L906.4 868 L906.4 862 L906.4 856 L906.5 850 L906.5 844 L906.5 838 L906.5 832 L906.5 826 L906.5 820 L906.6 814 L906.6 808 L906.6 802 L906.6 796 L906.6 790 L906.7 784 L906.7 778 L906.7 772 L906.7 766 L906.7 760 L906.7 754 L906.8 748 L906.8 742 L906.8 736 L906.8 730 L906.8 724 L906.9 718 L906.9 712 L906.9 706 L906.9 700 L906.9 694 L909.6 688 L910.7 682 L911.4 676 L911.8 670 L912.0 664 L912.0 658 L911.7 652 L911.2 646 L910.3 640 L908.9 634 L907.1 628 L907.1 622 L907.2 616 L907.2 610 L907.2 604 L907.2 598 L907.2 592 L907.3 586 L907.3 580 L907.3 574 L909.1 568 L911.0 562 L912.0 556 L912.3 550 L912.2 544 L911.6 538 L910.4 532 L907.4 526 L907.5 520 L907.5 514 L907.5 508 L907.5 502 L907.5 496 L907.5 490 L907.6 484 L907.6 478 L907.6 472 L907.6 466 L907.6 460 L907.7 454 L907.7 448 L907.7 442 L907.7 436 L907.7 430 L907.7 424 L907.8 418 L907.8 412 L907.8 406 L907.8 400 L907.8 394 L907.9 388 L907.9 382 L907.9 376 L907.9 370 L907.9 364 L907.9 358 L908.0 352 L908.0 346 L908.0 340Z" fill="url(#g2)"/>
<path d="M787.1 1081 L774.3 1131 L792.3 1131 Q796.1 1123 791.1 1081Z" fill="#2c2421" opacity="0.4"/>
<path d="M905.2 1081 L914.3 1131 L896.3 1131 Q896.2 1123 901.2 1081Z" fill="#2c2421" opacity="0.4"/>
<path d="M795.0 340 L795.0 346 L794.9 352 L794.9 358 L794.9 364 L794.9 370 L794.8 376 L794.8 382 L794.8 388 L794.8 394 L794.7 400 L794.7 406 L794.7 412 L794.6 418 L794.6 424 L794.6 430 L794.6 436 L794.5 442 L794.5 448 L794.5 454 L794.5 460 L794.4 466 L794.4 472 L794.4 478 L794.3 484 L794.3 490 L794.3 496 L794.3 502 L794.2 508 L794.2 514 L794.2 520 L794.2 526 L790.6 532 L789.0 538 L788.2 544 L788.1 550 L788.5 556 L789.5 562 L791.8 568 L793.9 574 L793.9 580 L793.9 586 L793.9 592 L793.8 598 L793.8 604 L793.8 610 L793.7 616 L793.7 622 L793.7 628 L791.2 634 L789.1 640 L787.8 646 L787.1 652 L786.6 658 L786.5 664 L786.7 670 L787.3 676 L788.2 682 L789.7 688 L793.4 694 L793.4 700 L793.3 706 L793.3 712 L793.3 718 L793.3 724 L793.2 730 L793.2 736 L793.2 742 L806.2 742 L808.0 340Z" fill="#2a211d" opacity="0.170"/><path d="M908.0 340 L908.0 346 L908.0 352 L907.9 358 L907.9 364 L907.9 370 L907.9 376 L907.9 382 L907.9 388 L907.8 394 L907.8 400 L907.8 406 L907.8 412 L907.8 418 L907.7 424 L907.7 430 L907.7 436 L907.7 442 L907.7 448 L907.7 454 L907.6 460 L907.6 466 L907.6 472 L907.6 478 L907.6 484 L907.5 490 L907.5 496 L907.5 502 L907.5 508 L907.5 514 L907.5 520 L907.4 526 L910.4 532 L911.6 538 L912.2 544 L912.3 550 L912.0 556 L911.0 562 L909.1 568 L907.3 574 L907.3 580 L907.3 586 L907.2 592 L907.2 598 L907.2 604 L907.2 610 L907.2 616 L907.1 622 L907.1 628 L908.9 634 L910.3 640 L911.2 646 L911.7 652 L912.0 658 L912.0 664 L911.8 670 L911.4 676 L910.7 682 L909.6 688 L906.9 694 L906.9 700 L906.9 706 L906.9 712 L906.9 718 L906.8 724 L906.8 730 L906.8 736 L906.8 742 L893.8 742 L895.0 340Z" fill="#2a211d" opacity="0.170"/>
<path d="M793.2 742 L793.1 748 L793.1 754 L793.1 760 L793.1 766 L793.0 772 L793.0 778 L793.0 784 L793.0 790 L792.9 796 L792.9 802 L792.9 808 L792.8 814 L792.8 820 L792.8 826 L792.8 832 L792.7 838 L792.7 844 L792.7 850 L792.7 856 L792.6 862 L792.6 868 L792.6 874 L792.5 880 L792.5 886 L792.5 892 L792.5 898 L792.4 904 L792.4 910 L792.4 916 L792.4 922 L792.3 928 L792.3 934 L792.3 940 L792.2 946 L792.2 952 L792.2 958 L792.2 964 L792.1 970 L792.1 976 L792.1 982 L792.1 988 L792.0 994 L792.0 1000 L791.6 1006 L791.3 1012 L790.9 1018 L790.6 1024 L790.2 1030 L789.8 1036 L789.5 1042 L789.1 1048 L788.8 1054 L788.4 1060 L788.0 1066 L787.7 1072 L787.3 1078 L787.0 1084 L786.6 1090 L786.2 1096 L786.0 1102 L785.9 1108 L785.8 1114 L779.5 1120 L776.2 1126 L774.0 1132 L772.6 1138 L771.7 1144 L771.4 1150 L771.5 1156 L772.1 1162 L773.3 1168 L775.2 1174 L778.1 1180 L784.9 1186 L784.9 1192 L784.8 1198 L784.7 1204 L784.6 1210 L784.5 1216 L784.5 1222 L784.4 1228 L784.3 1234 L784.2 1240 L784.2 1246 L784.1 1252 L784.0 1258 L784.0 1264 L783.9 1270 L783.8 1276 L783.7 1282 L783.6 1288 L783.6 1294 L783.5 1300 L783.4 1306 L783.4 1312 L783.3 1318 L783.2 1324 L783.1 1330 L783.0 1336 L783.0 1342 L782.9 1348 L782.8 1354 L782.8 1360 L782.7 1366 L782.6 1372 L782.5 1378 L782.5 1384 L782.4 1390 L782.3 1396 L782.2 1402 L782.1 1408 L782.1 1414 L782.0 1420 L780.2 1426 L776.6 1432 L774.9 1438 L773.9 1444 L773.6 1450 L773.9 1456 L774.8 1462 L776.6 1468 L781.3 1474 L781.2 1480 L781.2 1486 L781.1 1492 L781.0 1498 L781.0 1504 L780.9 1510 L780.8 1516 L780.7 1522 L780.6 1528 L780.6 1534 L780.5 1540 L780.4 1546 L780.4 1552 L780.3 1558 L780.2 1564 L780.1 1570 L780.0 1576 L793.0 1576 L806.2 742Z" fill="#2a211d" opacity="0.094"/><path d="M906.8 742 L906.8 748 L906.7 754 L906.7 760 L906.7 766 L906.7 772 L906.7 778 L906.7 784 L906.6 790 L906.6 796 L906.6 802 L906.6 808 L906.6 814 L906.5 820 L906.5 826 L906.5 832 L906.5 838 L906.5 844 L906.5 850 L906.4 856 L906.4 862 L906.4 868 L906.4 874 L906.4 880 L906.3 886 L906.3 892 L906.3 898 L906.3 904 L906.3 910 L906.3 916 L906.2 922 L906.2 928 L906.2 934 L906.2 940 L906.2 946 L906.1 952 L906.1 958 L906.1 964 L906.1 970 L906.1 976 L906.1 982 L906.0 988 L906.0 994 L906.0 1000 L905.9 1006 L905.9 1012 L905.8 1018 L905.8 1024 L905.7 1030 L905.6 1036 L905.6 1042 L905.5 1048 L905.4 1054 L905.4 1060 L905.3 1066 L905.3 1072 L905.2 1078 L905.1 1084 L905.1 1090 L905.0 1096 L904.9 1102 L904.9 1108 L904.8 1114 L910.1 1120 L912.8 1126 L914.6 1132 L915.7 1138 L916.3 1144 L916.4 1150 L916.2 1156 L915.6 1162 L914.4 1168 L912.7 1174 L910.1 1180 L904.1 1186 L904.0 1192 L904.0 1198 L903.9 1204 L903.8 1210 L903.8 1216 L903.7 1222 L903.6 1228 L903.6 1234 L903.5 1240 L903.5 1246 L903.4 1252 L903.3 1258 L903.3 1264 L903.2 1270 L903.1 1276 L903.1 1282 L903.0 1288 L903.0 1294 L902.9 1300 L902.8 1306 L902.8 1312 L902.7 1318 L902.6 1324 L902.6 1330 L902.5 1336 L902.5 1342 L902.4 1348 L902.3 1354 L902.3 1360 L902.2 1366 L902.2 1372 L902.1 1378 L902.0 1384 L902.0 1390 L901.9 1396 L901.8 1402 L901.8 1408 L901.7 1414 L901.7 1420 L902.9 1426 L905.4 1432 L906.6 1438 L907.2 1444 L907.3 1450 L907.0 1456 L906.2 1462 L904.8 1468 L901.1 1474 L901.0 1480 L901.0 1486 L900.9 1492 L900.8 1498 L900.8 1504 L900.7 1510 L900.7 1516 L900.6 1522 L900.5 1528 L900.5 1534 L900.4 1540 L900.4 1546 L900.3 1552 L900.2 1558 L900.2 1564 L900.1 1570 L900.0 1576 L887.0 1576 L893.8 742Z" fill="#2a211d" opacity="0.094"/>
<path d="M969.0 340 L969.0 346 L968.9 352 L968.9 358 L968.9 364 L968.9 370 L968.8 376 L968.8 382 L968.8 388 L968.8 394 L968.7 400 L968.7 406 L968.7 412 L968.6 418 L968.6 424 L968.6 430 L968.6 436 L968.5 442 L968.5 448 L968.5 454 L968.5 460 L968.4 466 L968.4 472 L968.4 478 L968.3 484 L968.3 490 L968.3 496 L968.3 502 L968.2 508 L968.2 514 L968.2 520 L968.2 526 L964.6 532 L963.0 538 L962.2 544 L962.1 550 L962.5 556 L963.5 562 L965.8 568 L967.9 574 L967.9 580 L967.9 586 L967.9 592 L967.8 598 L967.8 604 L967.8 610 L967.7 616 L967.7 622 L967.7 628 L965.2 634 L963.1 640 L961.8 646 L961.1 652 L960.6 658 L960.5 664 L960.7 670 L961.3 676 L962.2 682 L963.7 688 L967.4 694 L967.4 700 L967.3 706 L967.3 712 L967.3 718 L967.3 724 L967.2 730 L967.2 736 L967.2 742 L967.1 748 L967.1 754 L967.1 760 L967.1 766 L967.0 772 L967.0 778 L967.0 784 L967.0 790 L966.9 796 L966.9 802 L966.9 808 L966.8 814 L966.8 820 L966.8 826 L966.8 832 L966.7 838 L966.7 844 L966.7 850 L966.7 856 L966.6 862 L966.6 868 L966.6 874 L966.5 880 L966.5 886 L966.5 892 L966.5 898 L966.4 904 L966.4 910 L966.4 916 L966.4 922 L966.3 928 L966.3 934 L966.3 940 L966.2 946 L966.2 952 L966.2 958 L966.2 964 L966.1 970 L966.1 976 L966.1 982 L966.1 988 L966.0 994 L966.0 1000 L965.6 1006 L965.3 1012 L964.9 1018 L964.6 1024 L964.2 1030 L963.8 1036 L963.5 1042 L963.1 1048 L962.8 1054 L962.4 1060 L962.0 1066 L961.7 1072 L961.3 1078 L961.0 1084 L960.6 1090 L960.2 1096 L960.0 1102 L953.8 1108 L949.8 1114 L947.2 1120 L945.5 1126 L944.4 1132 L943.8 1138 L943.7 1144 L944.1 1150 L945.0 1156 L946.6 1162 L948.9 1168 L952.4 1174 L959.3 1180 L959.3 1186 L959.2 1192 L959.2 1198 L959.1 1204 L959.1 1210 L959.0 1216 L959.0 1222 L958.9 1228 L958.9 1234 L958.8 1240 L958.8 1246 L958.7 1252 L958.7 1258 L958.6 1264 L958.6 1270 L958.5 1276 L958.5 1282 L958.4 1288 L958.4 1294 L958.3 1300 L958.3 1306 L958.2 1312 L958.2 1318 L958.1 1324 L958.1 1330 L958.0 1336 L958.0 1342 L957.9 1348 L957.9 1354 L957.8 1360 L957.8 1366 L957.7 1372 L957.7 1378 L957.6 1384 L957.6 1390 L957.5 1396 L957.5 1402 L957.4 1408 L957.4 1414 L957.3 1420 L952.5 1426 L950.6 1432 L949.5 1438 L949.1 1444 L949.3 1450 L950.1 1456 L951.8 1462 L955.2 1468 L956.9 1474 L956.8 1480 L956.8 1486 L956.7 1492 L956.7 1498 L956.6 1504 L956.6 1510 L956.5 1516 L956.5 1522 L956.4 1528 L956.4 1534 L956.3 1540 L956.3 1546 L956.2 1552 L956.2 1558 L956.1 1564 L956.1 1570 L956.0 1576 L1077.0 1576 L1077.1 1570 L1077.1 1564 L1077.1 1558 L1077.1 1552 L1077.2 1546 L1077.2 1540 L1077.2 1534 L1077.3 1528 L1077.3 1522 L1077.3 1516 L1077.4 1510 L1077.4 1504 L1077.4 1498 L1077.5 1492 L1077.5 1486 L1077.5 1480 L1077.5 1474 L1078.9 1468 L1081.5 1462 L1082.8 1456 L1083.5 1450 L1083.7 1444 L1083.5 1438 L1082.8 1432 L1081.4 1426 L1077.8 1420 L1077.9 1414 L1077.9 1408 L1077.9 1402 L1078.0 1396 L1078.0 1390 L1078.0 1384 L1078.0 1378 L1078.1 1372 L1078.1 1366 L1078.1 1360 L1078.2 1354 L1078.2 1348 L1078.2 1342 L1078.3 1336 L1078.3 1330 L1078.3 1324 L1078.4 1318 L1078.4 1312 L1078.4 1306 L1078.4 1300 L1078.5 1294 L1078.5 1288 L1078.5 1282 L1078.6 1276 L1078.6 1270 L1078.6 1264 L1078.7 1258 L1078.7 1252 L1078.7 1246 L1078.8 1240 L1078.8 1234 L1078.8 1228 L1078.9 1222 L1078.9 1216 L1078.9 1210 L1078.9 1204 L1079.0 1198 L1079.0 1192 L1079.0 1186 L1079.1 1180 L1083.0 1174 L1085.1 1168 L1086.4 1162 L1087.4 1156 L1087.9 1150 L1088.2 1144 L1088.2 1138 L1088.0 1132 L1087.4 1126 L1086.5 1120 L1085.1 1114 L1082.9 1108 L1079.5 1102 L1079.5 1096 L1079.5 1090 L1079.6 1084 L1079.6 1078 L1079.6 1072 L1079.7 1066 L1079.7 1060 L1079.7 1054 L1079.8 1048 L1079.8 1042 L1079.8 1036 L1079.8 1030 L1079.9 1024 L1079.9 1018 L1079.9 1012 L1080.0 1006 L1080.0 1000 L1080.0 994 L1080.0 988 L1080.1 982 L1080.1 976 L1080.1 970 L1080.1 964 L1080.1 958 L1080.1 952 L1080.2 946 L1080.2 940 L1080.2 934 L1080.2 928 L1080.2 922 L1080.3 916 L1080.3 910 L1080.3 904 L1080.3 898 L1080.3 892 L1080.3 886 L1080.4 880 L1080.4 874 L1080.4 868 L1080.4 862 L1080.4 856 L1080.5 850 L1080.5 844 L1080.5 838 L1080.5 832 L1080.5 826 L1080.5 820 L1080.6 814 L1080.6 808 L1080.6 802 L1080.6 796 L1080.6 790 L1080.7 784 L1080.7 778 L1080.7 772 L1080.7 766 L1080.7 760 L1080.7 754 L1080.8 748 L1080.8 742 L1080.8 736 L1080.8 730 L1080.8 724 L1080.9 718 L1080.9 712 L1080.9 706 L1080.9 700 L1080.9 694 L1083.6 688 L1084.7 682 L1085.4 676 L1085.8 670 L1086.0 664 L1086.0 658 L1085.7 652 L1085.2 646 L1084.3 640 L1082.9 634 L1081.1 628 L1081.1 622 L1081.2 616 L1081.2 610 L1081.2 604 L1081.2 598 L1081.2 592 L1081.3 586 L1081.3 580 L1081.3 574 L1083.1 568 L1085.0 562 L1086.0 556 L1086.3 550 L1086.2 544 L1085.6 538 L1084.4 532 L1081.4 526 L1081.5 520 L1081.5 514 L1081.5 508 L1081.5 502 L1081.5 496 L1081.5 490 L1081.6 484 L1081.6 478 L1081.6 472 L1081.6 466 L1081.6 460 L1081.7 454 L1081.7 448 L1081.7 442 L1081.7 436 L1081.7 430 L1081.7 424 L1081.8 418 L1081.8 412 L1081.8 406 L1081.8 400 L1081.8 394 L1081.9 388 L1081.9 382 L1081.9 376 L1081.9 370 L1081.9 364 L1081.9 358 L1082.0 352 L1082.0 346 L1082.0 340Z" fill="url(#g3)"/>
<path d="M961.8 1070 L947.2 1120 L965.2 1120 Q970.8 1112 965.8 1070Z" fill="#2c2421" opacity="0.4"/>
<path d="M1079.6 1070 L1086.5 1120 L1068.5 1120 Q1070.6 1112 1075.6 1070Z" fill="#2c2421" opacity="0.4"/>
<path d="M969.0 340 L969.0 346 L968.9 352 L968.9 358 L968.9 364 L968.9 370 L968.8 376 L968.8 382 L968.8 388 L968.8 394 L968.7 400 L968.7 406 L968.7 412 L968.6 418 L968.6 424 L968.6 430 L968.6 436 L968.5 442 L968.5 448 L968.5 454 L968.5 460 L968.4 466 L968.4 472 L968.4 478 L968.3 484 L968.3 490 L968.3 496 L968.3 502 L968.2 508 L968.2 514 L968.2 520 L968.2 526 L964.6 532 L963.0 538 L962.2 544 L962.1 550 L962.5 556 L963.5 562 L965.8 568 L967.9 574 L967.9 580 L967.9 586 L967.9 592 L967.8 598 L967.8 604 L967.8 610 L967.7 616 L967.7 622 L967.7 628 L965.2 634 L963.1 640 L961.8 646 L961.1 652 L960.6 658 L960.5 664 L960.7 670 L961.3 676 L962.2 682 L963.7 688 L967.4 694 L967.4 700 L967.3 706 L967.3 712 L967.3 718 L967.3 724 L967.2 730 L967.2 736 L967.2 742 L980.2 742 L982.0 340Z" fill="#2a211d" opacity="0.170"/><path d="M1082.0 340 L1082.0 346 L1082.0 352 L1081.9 358 L1081.9 364 L1081.9 370 L1081.9 376 L1081.9 382 L1081.9 388 L1081.8 394 L1081.8 400 L1081.8 406 L1081.8 412 L1081.8 418 L1081.7 424 L1081.7 430 L1081.7 436 L1081.7 442 L1081.7 448 L1081.7 454 L1081.6 460 L1081.6 466 L1081.6 472 L1081.6 478 L1081.6 484 L1081.5 490 L1081.5 496 L1081.5 502 L1081.5 508 L1081.5 514 L1081.5 520 L1081.4 526 L1084.4 532 L1085.6 538 L1086.2 544 L1086.3 550 L1086.0 556 L1085.0 562 L1083.1 568 L1081.3 574 L1081.3 580 L1081.3 586 L1081.2 592 L1081.2 598 L1081.2 604 L1081.2 610 L1081.2 616 L1081.1 622 L1081.1 628 L1082.9 634 L1084.3 640 L1085.2 646 L1085.7 652 L1086.0 658 L1086.0 664 L1085.8 670 L1085.4 676 L1084.7 682 L1083.6 688 L1080.9 694 L1080.9 700 L1080.9 706 L1080.9 712 L1080.9 718 L1080.8 724 L1080.8 730 L1080.8 736 L1080.8 742 L1067.8 742 L1069.0 340Z" fill="#2a211d" opacity="0.170"/>
<path d="M967.2 742 L967.1 748 L967.1 754 L967.1 760 L967.1 766 L967.0 772 L967.0 778 L967.0 784 L967.0 790 L966.9 796 L966.9 802 L966.9 808 L966.8 814 L966.8 820 L966.8 826 L966.8 832 L966.7 838 L966.7 844 L966.7 850 L966.7 856 L966.6 862 L966.6 868 L966.6 874 L966.5 880 L966.5 886 L966.5 892 L966.5 898 L966.4 904 L966.4 910 L966.4 916 L966.4 922 L966.3 928 L966.3 934 L966.3 940 L966.2 946 L966.2 952 L966.2 958 L966.2 964 L966.1 970 L966.1 976 L966.1 982 L966.1 988 L966.0 994 L966.0 1000 L965.6 1006 L965.3 1012 L964.9 1018 L964.6 1024 L964.2 1030 L963.8 1036 L963.5 1042 L963.1 1048 L962.8 1054 L962.4 1060 L962.0 1066 L961.7 1072 L961.3 1078 L961.0 1084 L960.6 1090 L960.2 1096 L960.0 1102 L953.8 1108 L949.8 1114 L947.2 1120 L945.5 1126 L944.4 1132 L943.8 1138 L943.7 1144 L944.1 1150 L945.0 1156 L946.6 1162 L948.9 1168 L952.4 1174 L959.3 1180 L959.3 1186 L959.2 1192 L959.2 1198 L959.1 1204 L959.1 1210 L959.0 1216 L959.0 1222 L958.9 1228 L958.9 1234 L958.8 1240 L958.8 1246 L958.7 1252 L958.7 1258 L958.6 1264 L958.6 1270 L958.5 1276 L958.5 1282 L958.4 1288 L958.4 1294 L958.3 1300 L958.3 1306 L958.2 1312 L958.2 1318 L958.1 1324 L958.1 1330 L958.0 1336 L958.0 1342 L957.9 1348 L957.9 1354 L957.8 1360 L957.8 1366 L957.7 1372 L957.7 1378 L957.6 1384 L957.6 1390 L957.5 1396 L957.5 1402 L957.4 1408 L957.4 1414 L957.3 1420 L952.5 1426 L950.6 1432 L949.5 1438 L949.1 1444 L949.3 1450 L950.1 1456 L951.8 1462 L955.2 1468 L956.9 1474 L956.8 1480 L956.8 1486 L956.7 1492 L956.7 1498 L956.6 1504 L956.6 1510 L956.5 1516 L956.5 1522 L956.4 1528 L956.4 1534 L956.3 1540 L956.3 1546 L956.2 1552 L956.2 1558 L956.1 1564 L956.1 1570 L956.0 1576 L969.0 1576 L980.2 742Z" fill="#2a211d" opacity="0.094"/><path d="M1080.8 742 L1080.8 748 L1080.7 754 L1080.7 760 L1080.7 766 L1080.7 772 L1080.7 778 L1080.7 784 L1080.6 790 L1080.6 796 L1080.6 802 L1080.6 808 L1080.6 814 L1080.5 820 L1080.5 826 L1080.5 832 L1080.5 838 L1080.5 844 L1080.5 850 L1080.4 856 L1080.4 862 L1080.4 868 L1080.4 874 L1080.4 880 L1080.3 886 L1080.3 892 L1080.3 898 L1080.3 904 L1080.3 910 L1080.3 916 L1080.2 922 L1080.2 928 L1080.2 934 L1080.2 940 L1080.2 946 L1080.1 952 L1080.1 958 L1080.1 964 L1080.1 970 L1080.1 976 L1080.1 982 L1080.0 988 L1080.0 994 L1080.0 1000 L1080.0 1006 L1079.9 1012 L1079.9 1018 L1079.9 1024 L1079.8 1030 L1079.8 1036 L1079.8 1042 L1079.8 1048 L1079.7 1054 L1079.7 1060 L1079.7 1066 L1079.6 1072 L1079.6 1078 L1079.6 1084 L1079.5 1090 L1079.5 1096 L1079.5 1102 L1082.9 1108 L1085.1 1114 L1086.5 1120 L1087.4 1126 L1088.0 1132 L1088.2 1138 L1088.2 1144 L1087.9 1150 L1087.4 1156 L1086.4 1162 L1085.1 1168 L1083.0 1174 L1079.1 1180 L1079.0 1186 L1079.0 1192 L1079.0 1198 L1078.9 1204 L1078.9 1210 L1078.9 1216 L1078.9 1222 L1078.8 1228 L1078.8 1234 L1078.8 1240 L1078.7 1246 L1078.7 1252 L1078.7 1258 L1078.6 1264 L1078.6 1270 L1078.6 1276 L1078.5 1282 L1078.5 1288 L1078.5 1294 L1078.4 1300 L1078.4 1306 L1078.4 1312 L1078.4 1318 L1078.3 1324 L1078.3 1330 L1078.3 1336 L1078.2 1342 L1078.2 1348 L1078.2 1354 L1078.1 1360 L1078.1 1366 L1078.1 1372 L1078.0 1378 L1078.0 1384 L1078.0 1390 L1078.0 1396 L1077.9 1402 L1077.9 1408 L1077.9 1414 L1077.8 1420 L1081.4 1426 L1082.8 1432 L1083.5 1438 L1083.7 1444 L1083.5 1450 L1082.8 1456 L1081.5 1462 L1078.9 1468 L1077.5 1474 L1077.5 1480 L1077.5 1486 L1077.5 1492 L1077.4 1498 L1077.4 1504 L1077.4 1510 L1077.3 1516 L1077.3 1522 L1077.3 1528 L1077.2 1534 L1077.2 1540 L1077.2 1546 L1077.1 1552 L1077.1 1558 L1077.1 1564 L1077.1 1570 L1077.0 1576 L1064.0 1576 L1067.8 742Z" fill="#2a211d" opacity="0.094"/>
<path d="M1145.0 340 L1145.0 346 L1144.9 352 L1144.9 358 L1144.9 364 L1144.9 370 L1144.8 376 L1144.8 382 L1144.8 388 L1144.8 394 L1144.7 400 L1144.7 406 L1144.7 412 L1144.6 418 L1144.6 424 L1144.6 430 L1144.6 436 L1144.5 442 L1144.5 448 L1144.5 454 L1144.5 460 L1144.4 466 L1144.4 472 L1144.4 478 L1144.3 484 L1144.3 490 L1144.3 496 L1144.3 502 L1144.2 508 L1144.2 514 L1144.2 520 L1144.2 526 L1140.6 532 L1139.0 538 L1138.2 544 L1138.1 550 L1138.5 556 L1139.5 562 L1141.8 568 L1143.9 574 L1143.9 580 L1143.9 586 L1143.9 592 L1143.8 598 L1143.8 604 L1143.8 610 L1143.7 616 L1143.7 622 L1143.7 628 L1141.2 634 L1139.1 640 L1137.8 646 L1137.1 652 L1136.6 658 L1136.5 664 L1136.7 670 L1137.3 676 L1138.2 682 L1139.7 688 L1143.4 694 L1143.4 700 L1143.3 706 L1143.3 712 L1143.3 718 L1143.3 724 L1143.2 730 L1143.2 736 L1143.2 742 L1143.1 748 L1143.1 754 L1143.1 760 L1143.1 766 L1143.0 772 L1143.0 778 L1143.0 784 L1143.0 790 L1142.9 796 L1142.9 802 L1142.9 808 L1142.8 814 L1142.8 820 L1142.8 826 L1142.8 832 L1142.7 838 L1142.7 844 L1142.7 850 L1142.7 856 L1142.6 862 L1142.6 868 L1142.6 874 L1142.5 880 L1142.5 886 L1142.5 892 L1142.5 898 L1142.4 904 L1142.4 910 L1142.4 916 L1142.4 922 L1142.3 928 L1142.3 934 L1142.3 940 L1142.2 946 L1142.2 952 L1142.2 958 L1142.2 964 L1142.1 970 L1142.1 976 L1142.1 982 L1142.1 988 L1142.0 994 L1142.0 1000 L1141.6 1006 L1141.3 1012 L1140.9 1018 L1140.6 1024 L1140.2 1030 L1139.8 1036 L1139.5 1042 L1139.1 1048 L1138.8 1054 L1138.4 1060 L1138.0 1066 L1137.7 1072 L1137.3 1078 L1137.0 1084 L1136.6 1090 L1136.2 1096 L1136.0 1102 L1131.8 1108 L1126.9 1114 L1124.0 1120 L1122.0 1126 L1120.7 1132 L1119.9 1138 L1119.6 1144 L1119.9 1150 L1120.6 1156 L1121.9 1162 L1124.0 1168 L1127.0 1174 L1132.6 1180 L1135.3 1186 L1135.2 1192 L1135.2 1198 L1135.1 1204 L1135.1 1210 L1135.0 1216 L1135.0 1222 L1134.9 1228 L1134.9 1234 L1134.8 1240 L1134.8 1246 L1134.7 1252 L1134.7 1258 L1134.6 1264 L1134.6 1270 L1134.5 1276 L1134.5 1282 L1134.4 1288 L1134.4 1294 L1134.3 1300 L1134.3 1306 L1134.2 1312 L1134.2 1318 L1134.1 1324 L1134.1 1330 L1134.0 1336 L1134.0 1342 L1133.9 1348 L1133.9 1354 L1133.8 1360 L1133.8 1366 L1133.7 1372 L1133.7 1378 L1133.6 1384 L1133.6 1390 L1133.5 1396 L1133.5 1402 L1133.4 1408 L1133.4 1414 L1133.3 1420 L1129.4 1426 L1127.1 1432 L1125.8 1438 L1125.2 1444 L1125.2 1450 L1125.8 1456 L1127.1 1462 L1129.6 1468 L1132.9 1474 L1132.8 1480 L1132.8 1486 L1132.7 1492 L1132.7 1498 L1132.6 1504 L1132.6 1510 L1132.5 1516 L1132.5 1522 L1132.4 1528 L1132.4 1534 L1132.3 1540 L1132.3 1546 L1132.2 1552 L1132.2 1558 L1132.1 1564 L1132.1 1570 L1132.0 1576 L1250.0 1576 L1250.1 1570 L1250.1 1564 L1250.2 1558 L1250.2 1552 L1250.2 1546 L1250.3 1540 L1250.3 1534 L1250.4 1528 L1250.4 1522 L1250.4 1516 L1250.5 1510 L1250.5 1504 L1250.6 1498 L1250.6 1492 L1250.6 1486 L1250.7 1480 L1250.7 1474 L1253.3 1468 L1255.2 1462 L1256.3 1456 L1256.8 1450 L1256.9 1444 L1256.5 1438 L1255.7 1432 L1254.0 1426 L1251.1 1420 L1251.1 1414 L1251.2 1408 L1251.2 1402 L1251.3 1396 L1251.3 1390 L1251.4 1384 L1251.4 1378 L1251.4 1372 L1251.5 1366 L1251.5 1360 L1251.6 1354 L1251.6 1348 L1251.6 1342 L1251.7 1336 L1251.7 1330 L1251.8 1324 L1251.8 1318 L1251.8 1312 L1251.9 1306 L1251.9 1300 L1252.0 1294 L1252.0 1288 L1252.1 1282 L1252.1 1276 L1252.1 1270 L1252.2 1264 L1252.2 1258 L1252.3 1252 L1252.3 1246 L1252.3 1240 L1252.4 1234 L1252.4 1228 L1252.5 1222 L1252.5 1216 L1252.6 1210 L1252.6 1204 L1252.6 1198 L1252.7 1192 L1252.7 1186 L1253.8 1180 L1255.9 1174 L1257.1 1168 L1258.0 1162 L1258.5 1156 L1258.9 1150 L1259.0 1144 L1259.0 1138 L1258.7 1132 L1258.3 1126 L1257.6 1120 L1256.6 1114 L1254.8 1108 L1253.3 1102 L1253.3 1096 L1253.4 1090 L1253.4 1084 L1253.5 1078 L1253.5 1072 L1253.5 1066 L1253.6 1060 L1253.6 1054 L1253.7 1048 L1253.7 1042 L1253.8 1036 L1253.8 1030 L1253.8 1024 L1253.9 1018 L1253.9 1012 L1254.0 1006 L1254.0 1000 L1254.0 994 L1254.0 988 L1254.1 982 L1254.1 976 L1254.1 970 L1254.1 964 L1254.1 958 L1254.1 952 L1254.2 946 L1254.2 940 L1254.2 934 L1254.2 928 L1254.2 922 L1254.3 916 L1254.3 910 L1254.3 904 L1254.3 898 L1254.3 892 L1254.3 886 L1254.4 880 L1254.4 874 L1254.4 868 L1254.4 862 L1254.4 856 L1254.5 850 L1254.5 844 L1254.5 838 L1254.5 832 L1254.5 826 L1254.5 820 L1254.6 814 L1254.6 808 L1254.6 802 L1254.6 796 L1254.6 790 L1254.7 784 L1254.7 778 L1254.7 772 L1254.7 766 L1254.7 760 L1254.7 754 L1254.8 748 L1254.8 742 L1254.8 736 L1254.8 730 L1254.8 724 L1254.9 718 L1254.9 712 L1254.9 706 L1254.9 700 L1254.9 694 L1257.6 688 L1258.7 682 L1259.4 676 L1259.8 670 L1260.0 664 L1260.0 658 L1259.7 652 L1259.2 646 L1258.3 640 L1256.9 634 L1255.1 628 L1255.1 622 L1255.2 616 L1255.2 610 L1255.2 604 L1255.2 598 L1255.2 592 L1255.3 586 L1255.3 580 L1255.3 574 L1257.1 568 L1259.0 562 L1260.0 556 L1260.3 550 L1260.2 544 L1259.6 538 L1258.4 532 L1255.4 526 L1255.5 520 L1255.5 514 L1255.5 508 L1255.5 502 L1255.5 496 L1255.5 490 L1255.6 484 L1255.6 478 L1255.6 472 L1255.6 466 L1255.6 460 L1255.7 454 L1255.7 448 L1255.7 442 L1255.7 436 L1255.7 430 L1255.7 424 L1255.8 418 L1255.8 412 L1255.8 406 L1255.8 400 L1255.8 394 L1255.9 388 L1255.9 382 L1255.9 376 L1255.9 370 L1255.9 364 L1255.9 358 L1256.0 352 L1256.0 346 L1256.0 340Z" fill="url(#g4)"/>
<path d="M1137.7 1072 L1123.2 1122 L1141.2 1122 Q1146.7 1114 1141.7 1072Z" fill="#2c2421" opacity="0.4"/>
<path d="M1253.5 1072 L1257.9 1122 L1239.9 1122 Q1244.5 1114 1249.5 1072Z" fill="#2c2421" opacity="0.4"/>
<path d="M1145.0 340 L1145.0 346 L1144.9 352 L1144.9 358 L1144.9 364 L1144.9 370 L1144.8 376 L1144.8 382 L1144.8 388 L1144.8 394 L1144.7 400 L1144.7 406 L1144.7 412 L1144.6 418 L1144.6 424 L1144.6 430 L1144.6 436 L1144.5 442 L1144.5 448 L1144.5 454 L1144.5 460 L1144.4 466 L1144.4 472 L1144.4 478 L1144.3 484 L1144.3 490 L1144.3 496 L1144.3 502 L1144.2 508 L1144.2 514 L1144.2 520 L1144.2 526 L1140.6 532 L1139.0 538 L1138.2 544 L1138.1 550 L1138.5 556 L1139.5 562 L1141.8 568 L1143.9 574 L1143.9 580 L1143.9 586 L1143.9 592 L1143.8 598 L1143.8 604 L1143.8 610 L1143.7 616 L1143.7 622 L1143.7 628 L1141.2 634 L1139.1 640 L1137.8 646 L1137.1 652 L1136.6 658 L1136.5 664 L1136.7 670 L1137.3 676 L1138.2 682 L1139.7 688 L1143.4 694 L1143.4 700 L1143.3 706 L1143.3 712 L1143.3 718 L1143.3 724 L1143.2 730 L1143.2 736 L1143.2 742 L1156.2 742 L1158.0 340Z" fill="#2a211d" opacity="0.170"/><path d="M1256.0 340 L1256.0 346 L1256.0 352 L1255.9 358 L1255.9 364 L1255.9 370 L1255.9 376 L1255.9 382 L1255.9 388 L1255.8 394 L1255.8 400 L1255.8 406 L1255.8 412 L1255.8 418 L1255.7 424 L1255.7 430 L1255.7 436 L1255.7 442 L1255.7 448 L1255.7 454 L1255.6 460 L1255.6 466 L1255.6 472 L1255.6 478 L1255.6 484 L1255.5 490 L1255.5 496 L1255.5 502 L1255.5 508 L1255.5 514 L1255.5 520 L1255.4 526 L1258.4 532 L1259.6 538 L1260.2 544 L1260.3 550 L1260.0 556 L1259.0 562 L1257.1 568 L1255.3 574 L1255.3 580 L1255.3 586 L1255.2 592 L1255.2 598 L1255.2 604 L1255.2 610 L1255.2 616 L1255.1 622 L1255.1 628 L1256.9 634 L1258.3 640 L1259.2 646 L1259.7 652 L1260.0 658 L1260.0 664 L1259.8 670 L1259.4 676 L1258.7 682 L1257.6 688 L1254.9 694 L1254.9 700 L1254.9 706 L1254.9 712 L1254.9 718 L1254.8 724 L1254.8 730 L1254.8 736 L1254.8 742 L1241.8 742 L1243.0 340Z" fill="#2a211d" opacity="0.170"/>
<path d="M1143.2 742 L1143.1 748 L1143.1 754 L1143.1 760 L1143.1 766 L1143.0 772 L1143.0 778 L1143.0 784 L1143.0 790 L1142.9 796 L1142.9 802 L1142.9 808 L1142.8 814 L1142.8 820 L1142.8 826 L1142.8 832 L1142.7 838 L1142.7 844 L1142.7 850 L1142.7 856 L1142.6 862 L1142.6 868 L1142.6 874 L1142.5 880 L1142.5 886 L1142.5 892 L1142.5 898 L1142.4 904 L1142.4 910 L1142.4 916 L1142.4 922 L1142.3 928 L1142.3 934 L1142.3 940 L1142.2 946 L1142.2 952 L1142.2 958 L1142.2 964 L1142.1 970 L1142.1 976 L1142.1 982 L1142.1 988 L1142.0 994 L1142.0 1000 L1141.6 1006 L1141.3 1012 L1140.9 1018 L1140.6 1024 L1140.2 1030 L1139.8 1036 L1139.5 1042 L1139.1 1048 L1138.8 1054 L1138.4 1060 L1138.0 1066 L1137.7 1072 L1137.3 1078 L1137.0 1084 L1136.6 1090 L1136.2 1096 L1136.0 1102 L1131.8 1108 L1126.9 1114 L1124.0 1120 L1122.0 1126 L1120.7 1132 L1119.9 1138 L1119.6 1144 L1119.9 1150 L1120.6 1156 L1121.9 1162 L1124.0 1168 L1127.0 1174 L1132.6 1180 L1135.3 1186 L1135.2 1192 L1135.2 1198 L1135.1 1204 L1135.1 1210 L1135.0 1216 L1135.0 1222 L1134.9 1228 L1134.9 1234 L1134.8 1240 L1134.8 1246 L1134.7 1252 L1134.7 1258 L1134.6 1264 L1134.6 1270 L1134.5 1276 L1134.5 1282 L1134.4 1288 L1134.4 1294 L1134.3 1300 L1134.3 1306 L1134.2 1312 L1134.2 1318 L1134.1 1324 L1134.1 1330 L1134.0 1336 L1134.0 1342 L1133.9 1348 L1133.9 1354 L1133.8 1360 L1133.8 1366 L1133.7 1372 L1133.7 1378 L1133.6 1384 L1133.6 1390 L1133.5 1396 L1133.5 1402 L1133.4 1408 L1133.4 1414 L1133.3 1420 L1129.4 1426 L1127.1 1432 L1125.8 1438 L1125.2 1444 L1125.2 1450 L1125.8 1456 L1127.1 1462 L1129.6 1468 L1132.9 1474 L1132.8 1480 L1132.8 1486 L1132.7 1492 L1132.7 1498 L1132.6 1504 L1132.6 1510 L1132.5 1516 L1132.5 1522 L1132.4 1528 L1132.4 1534 L1132.3 1540 L1132.3 1546 L1132.2 1552 L1132.2 1558 L1132.1 1564 L1132.1 1570 L1132.0 1576 L1145.0 1576 L1156.2 742Z" fill="#2a211d" opacity="0.094"/><path d="M1254.8 742 L1254.8 748 L1254.7 754 L1254.7 760 L1254.7 766 L1254.7 772 L1254.7 778 L1254.7 784 L1254.6 790 L1254.6 796 L1254.6 802 L1254.6 808 L1254.6 814 L1254.5 820 L1254.5 826 L1254.5 832 L1254.5 838 L1254.5 844 L1254.5 850 L1254.4 856 L1254.4 862 L1254.4 868 L1254.4 874 L1254.4 880 L1254.3 886 L1254.3 892 L1254.3 898 L1254.3 904 L1254.3 910 L1254.3 916 L1254.2 922 L1254.2 928 L1254.2 934 L1254.2 940 L1254.2 946 L1254.1 952 L1254.1 958 L1254.1 964 L1254.1 970 L1254.1 976 L1254.1 982 L1254.0 988 L1254.0 994 L1254.0 1000 L1254.0 1006 L1253.9 1012 L1253.9 1018 L1253.8 1024 L1253.8 1030 L1253.8 1036 L1253.7 1042 L1253.7 1048 L1253.6 1054 L1253.6 1060 L1253.5 1066 L1253.5 1072 L1253.5 1078 L1253.4 1084 L1253.4 1090 L1253.3 1096 L1253.3 1102 L1254.8 1108 L1256.6 1114 L1257.6 1120 L1258.3 1126 L1258.7 1132 L1259.0 1138 L1259.0 1144 L1258.9 1150 L1258.5 1156 L1258.0 1162 L1257.1 1168 L1255.9 1174 L1253.8 1180 L1252.7 1186 L1252.7 1192 L1252.6 1198 L1252.6 1204 L1252.6 1210 L1252.5 1216 L1252.5 1222 L1252.4 1228 L1252.4 1234 L1252.3 1240 L1252.3 1246 L1252.3 1252 L1252.2 1258 L1252.2 1264 L1252.1 1270 L1252.1 1276 L1252.1 1282 L1252.0 1288 L1252.0 1294 L1251.9 1300 L1251.9 1306 L1251.8 1312 L1251.8 1318 L1251.8 1324 L1251.7 1330 L1251.7 1336 L1251.6 1342 L1251.6 1348 L1251.6 1354 L1251.5 1360 L1251.5 1366 L1251.4 1372 L1251.4 1378 L1251.4 1384 L1251.3 1390 L1251.3 1396 L1251.2 1402 L1251.2 1408 L1251.1 1414 L1251.1 1420 L1254.0 1426 L1255.7 1432 L1256.5 1438 L1256.9 1444 L1256.8 1450 L1256.3 1456 L1255.2 1462 L1253.3 1468 L1250.7 1474 L1250.7 1480 L1250.6 1486 L1250.6 1492 L1250.6 1498 L1250.5 1504 L1250.5 1510 L1250.4 1516 L1250.4 1522 L1250.4 1528 L1250.3 1534 L1250.3 1540 L1250.2 1546 L1250.2 1552 L1250.2 1558 L1250.1 1564 L1250.1 1570 L1250.0 1576 L1237.0 1576 L1241.8 742Z" fill="#2a211d" opacity="0.094"/>
<path d="M1318.0 340 L1318.0 346 L1317.9 352 L1317.9 358 L1317.9 364 L1317.9 370 L1317.8 376 L1317.8 382 L1317.8 388 L1317.8 394 L1317.7 400 L1317.7 406 L1317.7 412 L1317.6 418 L1317.6 424 L1317.6 430 L1317.6 436 L1317.5 442 L1317.5 448 L1317.5 454 L1317.5 460 L1317.4 466 L1317.4 472 L1317.4 478 L1317.3 484 L1317.3 490 L1317.3 496 L1317.3 502 L1317.2 508 L1317.2 514 L1317.2 520 L1317.2 526 L1313.6 532 L1312.0 538 L1311.2 544 L1311.1 550 L1311.5 556 L1312.5 562 L1314.8 568 L1316.9 574 L1316.9 580 L1316.9 586 L1316.9 592 L1316.8 598 L1316.8 604 L1316.8 610 L1316.7 616 L1316.7 622 L1316.7 628 L1314.2 634 L1312.1 640 L1310.8 646 L1310.1 652 L1309.6 658 L1309.5 664 L1309.7 670 L1310.3 676 L1311.2 682 L1312.7 688 L1316.4 694 L1316.4 700 L1316.3 706 L1316.3 712 L1316.3 718 L1316.3 724 L1316.2 730 L1316.2 736 L1316.2 742 L1316.1 748 L1316.1 754 L1316.1 760 L1316.1 766 L1316.0 772 L1316.0 778 L1316.0 784 L1316.0 790 L1315.9 796 L1315.9 802 L1315.9 808 L1315.8 814 L1315.8 820 L1315.8 826 L1315.8 832 L1315.7 838 L1315.7 844 L1315.7 850 L1315.7 856 L1315.6 862 L1315.6 868 L1315.6 874 L1315.5 880 L1315.5 886 L1315.5 892 L1315.5 898 L1315.4 904 L1315.4 910 L1315.4 916 L1315.4 922 L1315.3 928 L1315.3 934 L1315.3 940 L1315.2 946 L1315.2 952 L1315.2 958 L1315.2 964 L1315.1 970 L1315.1 976 L1315.1 982 L1315.1 988 L1315.0 994 L1315.0 1000 L1314.6 1006 L1314.3 1012 L1313.9 1018 L1313.6 1024 L1313.2 1030 L1312.8 1036 L1312.5 1042 L1312.1 1048 L1311.8 1054 L1311.4 1060 L1311.0 1066 L1310.7 1072 L1310.3 1078 L1310.0 1084 L1309.6 1090 L1309.2 1096 L1309.0 1102 L1308.9 1108 L1301.7 1114 L1298.0 1120 L1295.5 1126 L1293.9 1132 L1292.9 1138 L1292.5 1144 L1292.6 1150 L1293.2 1156 L1294.5 1162 L1296.5 1168 L1299.5 1174 L1305.2 1180 L1307.9 1186 L1307.8 1192 L1307.8 1198 L1307.7 1204 L1307.6 1210 L1307.5 1216 L1307.5 1222 L1307.4 1228 L1307.3 1234 L1307.2 1240 L1307.2 1246 L1307.1 1252 L1307.0 1258 L1307.0 1264 L1306.9 1270 L1306.8 1276 L1306.7 1282 L1306.7 1288 L1306.6 1294 L1306.5 1300 L1306.4 1306 L1306.3 1312 L1306.3 1318 L1306.2 1324 L1306.1 1330 L1306.0 1336 L1306.0 1342 L1305.9 1348 L1305.8 1354 L1305.8 1360 L1305.7 1366 L1305.6 1372 L1305.5 1378 L1305.5 1384 L1305.4 1390 L1305.3 1396 L1305.2 1402 L1305.2 1408 L1305.1 1414 L1305.0 1420 L1304.9 1426 L1301.1 1432 L1298.7 1438 L1297.4 1444 L1296.7 1450 L1296.6 1456 L1297.0 1462 L1298.1 1468 L1300.0 1474 L1304.2 1480 L1304.2 1486 L1304.1 1492 L1304.0 1498 L1304.0 1504 L1303.9 1510 L1303.8 1516 L1303.7 1522 L1303.7 1528 L1303.6 1534 L1303.5 1540 L1303.4 1546 L1303.3 1552 L1303.3 1558 L1303.2 1564 L1303.1 1570 L1303.0 1576 L1427.0 1576 L1427.1 1570 L1427.1 1564 L1427.1 1558 L1427.1 1552 L1427.2 1546 L1427.2 1540 L1427.2 1534 L1427.3 1528 L1427.3 1522 L1427.3 1516 L1427.4 1510 L1427.4 1504 L1427.4 1498 L1427.5 1492 L1427.5 1486 L1427.5 1480 L1430.8 1474 L1432.3 1468 L1433.2 1462 L1433.6 1456 L1433.6 1450 L1433.2 1444 L1432.3 1438 L1430.6 1432 L1427.8 1426 L1427.8 1420 L1427.9 1414 L1427.9 1408 L1427.9 1402 L1428.0 1396 L1428.0 1390 L1428.0 1384 L1428.0 1378 L1428.1 1372 L1428.1 1366 L1428.1 1360 L1428.2 1354 L1428.2 1348 L1428.2 1342 L1428.3 1336 L1428.3 1330 L1428.3 1324 L1428.4 1318 L1428.4 1312 L1428.4 1306 L1428.4 1300 L1428.5 1294 L1428.5 1288 L1428.5 1282 L1428.6 1276 L1428.6 1270 L1428.6 1264 L1428.7 1258 L1428.7 1252 L1428.7 1246 L1428.8 1240 L1428.8 1234 L1428.8 1228 L1428.9 1222 L1428.9 1216 L1428.9 1210 L1428.9 1204 L1429.0 1198 L1429.0 1192 L1429.0 1186 L1430.5 1180 L1433.4 1174 L1435.0 1168 L1436.0 1162 L1436.7 1156 L1437.1 1150 L1437.3 1144 L1437.1 1138 L1436.7 1132 L1435.9 1126 L1434.8 1120 L1433.0 1114 L1429.4 1108 L1429.5 1102 L1429.5 1096 L1429.5 1090 L1429.6 1084 L1429.6 1078 L1429.6 1072 L1429.7 1066 L1429.7 1060 L1429.7 1054 L1429.8 1048 L1429.8 1042 L1429.8 1036 L1429.8 1030 L1429.9 1024 L1429.9 1018 L1429.9 1012 L1430.0 1006 L1430.0 1000 L1430.0 994 L1430.0 988 L1430.1 982 L1430.1 976 L1430.1 970 L1430.1 964 L1430.1 958 L1430.1 952 L1430.2 946 L1430.2 940 L1430.2 934 L1430.2 928 L1430.2 922 L1430.3 916 L1430.3 910 L1430.3 904 L1430.3 898 L1430.3 892 L1430.3 886 L1430.4 880 L1430.4 874 L1430.4 868 L1430.4 862 L1430.4 856 L1430.5 850 L1430.5 844 L1430.5 838 L1430.5 832 L1430.5 826 L1430.5 820 L1430.6 814 L1430.6 808 L1430.6 802 L1430.6 796 L1430.6 790 L1430.7 784 L1430.7 778 L1430.7 772 L1430.7 766 L1430.7 760 L1430.7 754 L1430.8 748 L1430.8 742 L1430.8 736 L1430.8 730 L1430.8 724 L1430.9 718 L1430.9 712 L1430.9 706 L1430.9 700 L1430.9 694 L1433.6 688 L1434.7 682 L1435.4 676 L1435.8 670 L1436.0 664 L1436.0 658 L1435.7 652 L1435.2 646 L1434.3 640 L1432.9 634 L1431.1 628 L1431.1 622 L1431.2 616 L1431.2 610 L1431.2 604 L1431.2 598 L1431.2 592 L1431.3 586 L1431.3 580 L1431.3 574 L1433.1 568 L1435.0 562 L1436.0 556 L1436.3 550 L1436.2 544 L1435.6 538 L1434.4 532 L1431.4 526 L1431.5 520 L1431.5 514 L1431.5 508 L1431.5 502 L1431.5 496 L1431.5 490 L1431.6 484 L1431.6 478 L1431.6 472 L1431.6 466 L1431.6 460 L1431.7 454 L1431.7 448 L1431.7 442 L1431.7 436 L1431.7 430 L1431.7 424 L1431.8 418 L1431.8 412 L1431.8 406 L1431.8 400 L1431.8 394 L1431.9 388 L1431.9 382 L1431.9 376 L1431.9 370 L1431.9 364 L1431.9 358 L1432.0 352 L1432.0 346 L1432.0 340Z" fill="url(#g5)"/>
<path d="M1310.5 1075 L1295.9 1125 L1313.9 1125 Q1319.5 1117 1314.5 1075Z" fill="#2c2421" opacity="0.4"/>
<path d="M1429.6 1075 L1435.8 1125 L1417.8 1125 Q1420.6 1117 1425.6 1075Z" fill="#2c2421" opacity="0.4"/>
<path d="M1318.0 340 L1318.0 346 L1317.9 352 L1317.9 358 L1317.9 364 L1317.9 370 L1317.8 376 L1317.8 382 L1317.8 388 L1317.8 394 L1317.7 400 L1317.7 406 L1317.7 412 L1317.6 418 L1317.6 424 L1317.6 430 L1317.6 436 L1317.5 442 L1317.5 448 L1317.5 454 L1317.5 460 L1317.4 466 L1317.4 472 L1317.4 478 L1317.3 484 L1317.3 490 L1317.3 496 L1317.3 502 L1317.2 508 L1317.2 514 L1317.2 520 L1317.2 526 L1313.6 532 L1312.0 538 L1311.2 544 L1311.1 550 L1311.5 556 L1312.5 562 L1314.8 568 L1316.9 574 L1316.9 580 L1316.9 586 L1316.9 592 L1316.8 598 L1316.8 604 L1316.8 610 L1316.7 616 L1316.7 622 L1316.7 628 L1314.2 634 L1312.1 640 L1310.8 646 L1310.1 652 L1309.6 658 L1309.5 664 L1309.7 670 L1310.3 676 L1311.2 682 L1312.7 688 L1316.4 694 L1316.4 700 L1316.3 706 L1316.3 712 L1316.3 718 L1316.3 724 L1316.2 730 L1316.2 736 L1316.2 742 L1329.2 742 L1331.0 340Z" fill="#2a211d" opacity="0.170"/><path d="M1432.0 340 L1432.0 346 L1432.0 352 L1431.9 358 L1431.9 364 L1431.9 370 L1431.9 376 L1431.9 382 L1431.9 388 L1431.8 394 L1431.8 400 L1431.8 406 L1431.8 412 L1431.8 418 L1431.7 424 L1431.7 430 L1431.7 436 L1431.7 442 L1431.7 448 L1431.7 454 L1431.6 460 L1431.6 466 L1431.6 472 L1431.6 478 L1431.6 484 L1431.5 490 L1431.5 496 L1431.5 502 L1431.5 508 L1431.5 514 L1431.5 520 L1431.4 526 L1434.4 532 L1435.6 538 L1436.2 544 L1436.3 550 L1436.0 556 L1435.0 562 L1433.1 568 L1431.3 574 L1431.3 580 L1431.3 586 L1431.2 592 L1431.2 598 L1431.2 604 L1431.2 610 L1431.2 616 L1431.1 622 L1431.1 628 L1432.9 634 L1434.3 640 L1435.2 646 L1435.7 652 L1436.0 658 L1436.0 664 L1435.8 670 L1435.4 676 L1434.7 682 L1433.6 688 L1430.9 694 L1430.9 700 L1430.9 706 L1430.9 712 L1430.9 718 L1430.8 724 L1430.8 730 L1430.8 736 L1430.8 742 L1417.8 742 L1419.0 340Z" fill="#2a211d" opacity="0.170"/>
<path d="M1316.2 742 L1316.1 748 L1316.1 754 L1316.1 760 L1316.1 766 L1316.0 772 L1316.0 778 L1316.0 784 L1316.0 790 L1315.9 796 L1315.9 802 L1315.9 808 L1315.8 814 L1315.8 820 L1315.8 826 L1315.8 832 L1315.7 838 L1315.7 844 L1315.7 850 L1315.7 856 L1315.6 862 L1315.6 868 L1315.6 874 L1315.5 880 L1315.5 886 L1315.5 892 L1315.5 898 L1315.4 904 L1315.4 910 L1315.4 916 L1315.4 922 L1315.3 928 L1315.3 934 L1315.3 940 L1315.2 946 L1315.2 952 L1315.2 958 L1315.2 964 L1315.1 970 L1315.1 976 L1315.1 982 L1315.1 988 L1315.0 994 L1315.0 1000 L1314.6 1006 L1314.3 1012 L1313.9 1018 L1313.6 1024 L1313.2 1030 L1312.8 1036 L1312.5 1042 L1312.1 1048 L1311.8 1054 L1311.4 1060 L1311.0 1066 L1310.7 1072 L1310.3 1078 L1310.0 1084 L1309.6 1090 L1309.2 1096 L1309.0 1102 L1308.9 1108 L1301.7 1114 L1298.0 1120 L1295.5 1126 L1293.9 1132 L1292.9 1138 L1292.5 1144 L1292.6 1150 L1293.2 1156 L1294.5 1162 L1296.5 1168 L1299.5 1174 L1305.2 1180 L1307.9 1186 L1307.8 1192 L1307.8 1198 L1307.7 1204 L1307.6 1210 L1307.5 1216 L1307.5 1222 L1307.4 1228 L1307.3 1234 L1307.2 1240 L1307.2 1246 L1307.1 1252 L1307.0 1258 L1307.0 1264 L1306.9 1270 L1306.8 1276 L1306.7 1282 L1306.7 1288 L1306.6 1294 L1306.5 1300 L1306.4 1306 L1306.3 1312 L1306.3 1318 L1306.2 1324 L1306.1 1330 L1306.0 1336 L1306.0 1342 L1305.9 1348 L1305.8 1354 L1305.8 1360 L1305.7 1366 L1305.6 1372 L1305.5 1378 L1305.5 1384 L1305.4 1390 L1305.3 1396 L1305.2 1402 L1305.2 1408 L1305.1 1414 L1305.0 1420 L1304.9 1426 L1301.1 1432 L1298.7 1438 L1297.4 1444 L1296.7 1450 L1296.6 1456 L1297.0 1462 L1298.1 1468 L1300.0 1474 L1304.2 1480 L1304.2 1486 L1304.1 1492 L1304.0 1498 L1304.0 1504 L1303.9 1510 L1303.8 1516 L1303.7 1522 L1303.7 1528 L1303.6 1534 L1303.5 1540 L1303.4 1546 L1303.3 1552 L1303.3 1558 L1303.2 1564 L1303.1 1570 L1303.0 1576 L1316.0 1576 L1329.2 742Z" fill="#2a211d" opacity="0.094"/><path d="M1430.8 742 L1430.8 748 L1430.7 754 L1430.7 760 L1430.7 766 L1430.7 772 L1430.7 778 L1430.7 784 L1430.6 790 L1430.6 796 L1430.6 802 L1430.6 808 L1430.6 814 L1430.5 820 L1430.5 826 L1430.5 832 L1430.5 838 L1430.5 844 L1430.5 850 L1430.4 856 L1430.4 862 L1430.4 868 L1430.4 874 L1430.4 880 L1430.3 886 L1430.3 892 L1430.3 898 L1430.3 904 L1430.3 910 L1430.3 916 L1430.2 922 L1430.2 928 L1430.2 934 L1430.2 940 L1430.2 946 L1430.1 952 L1430.1 958 L1430.1 964 L1430.1 970 L1430.1 976 L1430.1 982 L1430.0 988 L1430.0 994 L1430.0 1000 L1430.0 1006 L1429.9 1012 L1429.9 1018 L1429.9 1024 L1429.8 1030 L1429.8 1036 L1429.8 1042 L1429.8 1048 L1429.7 1054 L1429.7 1060 L1429.7 1066 L1429.6 1072 L1429.6 1078 L1429.6 1084 L1429.5 1090 L1429.5 1096 L1429.5 1102 L1429.4 1108 L1433.0 1114 L1434.8 1120 L1435.9 1126 L1436.7 1132 L1437.1 1138 L1437.3 1144 L1437.1 1150 L1436.7 1156 L1436.0 1162 L1435.0 1168 L1433.4 1174 L1430.5 1180 L1429.0 1186 L1429.0 1192 L1429.0 1198 L1428.9 1204 L1428.9 1210 L1428.9 1216 L1428.9 1222 L1428.8 1228 L1428.8 1234 L1428.8 1240 L1428.7 1246 L1428.7 1252 L1428.7 1258 L1428.6 1264 L1428.6 1270 L1428.6 1276 L1428.5 1282 L1428.5 1288 L1428.5 1294 L1428.4 1300 L1428.4 1306 L1428.4 1312 L1428.4 1318 L1428.3 1324 L1428.3 1330 L1428.3 1336 L1428.2 1342 L1428.2 1348 L1428.2 1354 L1428.1 1360 L1428.1 1366 L1428.1 1372 L1428.0 1378 L1428.0 1384 L1428.0 1390 L1428.0 1396 L1427.9 1402 L1427.9 1408 L1427.9 1414 L1427.8 1420 L1427.8 1426 L1430.6 1432 L1432.3 1438 L1433.2 1444 L1433.6 1450 L1433.6 1456 L1433.2 1462 L1432.3 1468 L1430.8 1474 L1427.5 1480 L1427.5 1486 L1427.5 1492 L1427.4 1498 L1427.4 1504 L1427.4 1510 L1427.3 1516 L1427.3 1522 L1427.3 1528 L1427.2 1534 L1427.2 1540 L1427.2 1546 L1427.1 1552 L1427.1 1558 L1427.1 1564 L1427.1 1570 L1427.0 1576 L1414.0 1576 L1417.8 742Z" fill="#2a211d" opacity="0.094"/>
<path d="M1492.0 340 L1492.0 346 L1491.9 352 L1491.9 358 L1491.9 364 L1491.9 370 L1491.8 376 L1491.8 382 L1491.8 388 L1491.8 394 L1491.7 400 L1491.7 406 L1491.7 412 L1491.6 418 L1491.6 424 L1491.6 430 L1491.6 436 L1491.5 442 L1491.5 448 L1491.5 454 L1491.5 460 L1491.4 466 L1491.4 472 L1491.4 478 L1491.3 484 L1491.3 490 L1491.3 496 L1491.3 502 L1491.2 508 L1491.2 514 L1491.2 520 L1491.2 526 L1491.1 532 L1488.4 538 L1486.4 544 L1485.4 550 L1485.0 556 L1485.2 562 L1486.1 568 L1487.8 574 L1490.9 580 L1490.9 586 L1490.9 592 L1490.8 598 L1490.8 604 L1490.8 610 L1490.7 616 L1490.7 622 L1490.7 628 L1490.7 634 L1488.6 640 L1486.3 646 L1485.0 652 L1484.1 658 L1483.7 664 L1483.5 670 L1483.7 676 L1484.1 682 L1485.0 688 L1486.4 694 L1489.0 700 L1490.3 706 L1490.3 712 L1490.3 718 L1490.3 724 L1490.2 730 L1490.2 736 L1490.2 742 L1490.1 748 L1490.1 754 L1490.1 760 L1490.1 766 L1490.0 772 L1490.0 778 L1490.0 784 L1490.0 790 L1489.9 796 L1489.9 802 L1489.9 808 L1489.8 814 L1489.8 820 L1489.8 826 L1489.8 832 L1489.7 838 L1489.7 844 L1489.7 850 L1489.7 856 L1489.6 862 L1489.6 868 L1489.6 874 L1489.5 880 L1489.5 886 L1489.5 892 L1489.5 898 L1489.4 904 L1489.4 910 L1489.4 916 L1489.4 922 L1489.3 928 L1489.3 934 L1489.3 940 L1489.2 946 L1489.2 952 L1489.2 958 L1489.2 964 L1489.1 970 L1489.1 976 L1489.1 982 L1489.1 988 L1489.0 994 L1489.0 1000 L1488.6 1006 L1488.3 1012 L1487.9 1018 L1487.6 1024 L1487.2 1030 L1486.8 1036 L1486.5 1042 L1486.1 1048 L1485.8 1054 L1485.4 1060 L1485.0 1066 L1484.7 1072 L1484.3 1078 L1484.0 1084 L1483.6 1090 L1483.2 1096 L1483.0 1102 L1483.0 1108 L1482.9 1114 L1479.2 1120 L1474.9 1126 L1472.5 1132 L1470.9 1138 L1470.0 1144 L1469.7 1150 L1469.9 1156 L1470.7 1162 L1472.2 1168 L1474.6 1174 L1478.8 1180 L1482.5 1186 L1482.4 1192 L1482.4 1198 L1482.3 1204 L1482.3 1210 L1482.3 1216 L1482.2 1222 L1482.2 1228 L1482.2 1234 L1482.1 1240 L1482.1 1246 L1482.0 1252 L1482.0 1258 L1482.0 1264 L1481.9 1270 L1481.9 1276 L1481.9 1282 L1481.8 1288 L1481.8 1294 L1481.8 1300 L1481.7 1306 L1481.7 1312 L1481.6 1318 L1481.6 1324 L1481.6 1330 L1481.5 1336 L1481.5 1342 L1481.5 1348 L1481.4 1354 L1481.4 1360 L1481.3 1366 L1481.3 1372 L1481.3 1378 L1481.2 1384 L1481.2 1390 L1481.2 1396 L1481.1 1402 L1481.1 1408 L1481.0 1414 L1481.0 1420 L1481.0 1426 L1480.9 1432 L1480.9 1438 L1480.8 1444 L1477.0 1450 L1474.7 1456 L1473.4 1462 L1472.8 1468 L1472.7 1474 L1473.2 1480 L1474.3 1486 L1476.3 1492 L1480.5 1498 L1480.5 1504 L1480.4 1510 L1480.4 1516 L1480.4 1522 L1480.3 1528 L1480.3 1534 L1480.2 1540 L1480.2 1546 L1480.2 1552 L1480.1 1558 L1480.1 1564 L1480.1 1570 L1480.0 1576 L1600.0 1576 L1600.1 1570 L1600.1 1564 L1600.1 1558 L1600.1 1552 L1600.2 1546 L1600.2 1540 L1600.2 1534 L1600.3 1528 L1600.3 1522 L1600.3 1516 L1600.4 1510 L1600.4 1504 L1600.4 1498 L1603.7 1492 L1605.2 1486 L1606.1 1480 L1606.5 1474 L1606.5 1468 L1606.1 1462 L1605.2 1456 L1603.5 1450 L1600.7 1444 L1600.7 1438 L1600.8 1432 L1600.8 1426 L1600.8 1420 L1600.9 1414 L1600.9 1408 L1600.9 1402 L1601.0 1396 L1601.0 1390 L1601.0 1384 L1601.0 1378 L1601.1 1372 L1601.1 1366 L1601.1 1360 L1601.2 1354 L1601.2 1348 L1601.2 1342 L1601.3 1336 L1601.3 1330 L1601.3 1324 L1601.4 1318 L1601.4 1312 L1601.4 1306 L1601.4 1300 L1601.5 1294 L1601.5 1288 L1601.5 1282 L1601.6 1276 L1601.6 1270 L1601.6 1264 L1601.7 1258 L1601.7 1252 L1601.7 1246 L1601.8 1240 L1601.8 1234 L1601.8 1228 L1601.9 1222 L1601.9 1216 L1601.9 1210 L1601.9 1204 L1602.0 1198 L1602.0 1192 L1602.0 1186 L1608.3 1180 L1615.5 1174 L1619.6 1168 L1622.2 1162 L1623.7 1156 L1624.2 1150 L1623.8 1144 L1622.4 1138 L1619.8 1132 L1615.7 1126 L1608.6 1120 L1602.4 1114 L1602.4 1108 L1602.5 1102 L1602.5 1096 L1602.5 1090 L1602.6 1084 L1602.6 1078 L1602.6 1072 L1602.7 1066 L1602.7 1060 L1602.7 1054 L1602.8 1048 L1602.8 1042 L1602.8 1036 L1602.8 1030 L1602.9 1024 L1602.9 1018 L1602.9 1012 L1603.0 1006 L1603.0 1000 L1603.0 994 L1603.0 988 L1603.1 982 L1603.1 976 L1603.1 970 L1603.1 964 L1603.1 958 L1603.1 952 L1603.2 946 L1603.2 940 L1603.2 934 L1603.2 928 L1603.2 922 L1603.3 916 L1603.3 910 L1603.3 904 L1603.3 898 L1603.3 892 L1603.3 886 L1603.4 880 L1603.4 874 L1603.4 868 L1603.4 862 L1603.4 856 L1603.5 850 L1603.5 844 L1603.5 838 L1603.5 832 L1603.5 826 L1603.5 820 L1603.6 814 L1603.6 808 L1603.6 802 L1603.6 796 L1603.6 790 L1603.7 784 L1603.7 778 L1603.7 772 L1603.7 766 L1603.7 760 L1603.7 754 L1603.8 748 L1603.8 742 L1603.8 736 L1603.8 730 L1603.8 724 L1603.9 718 L1603.9 712 L1603.9 706 L1604.9 700 L1606.8 694 L1607.8 688 L1608.5 682 L1608.9 676 L1609.0 670 L1608.9 664 L1608.6 658 L1608.1 652 L1607.1 646 L1605.5 640 L1604.1 634 L1604.1 628 L1604.1 622 L1604.2 616 L1604.2 610 L1604.2 604 L1604.2 598 L1604.2 592 L1604.3 586 L1604.3 580 L1606.9 574 L1608.4 568 L1609.1 562 L1609.3 556 L1609.1 550 L1608.3 544 L1606.6 538 L1604.4 532 L1604.4 526 L1604.5 520 L1604.5 514 L1604.5 508 L1604.5 502 L1604.5 496 L1604.5 490 L1604.6 484 L1604.6 478 L1604.6 472 L1604.6 466 L1604.6 460 L1604.7 454 L1604.7 448 L1604.7 442 L1604.7 436 L1604.7 430 L1604.7 424 L1604.8 418 L1604.8 412 L1604.8 406 L1604.8 400 L1604.8 394 L1604.9 388 L1604.9 382 L1604.9 376 L1604.9 370 L1604.9 364 L1604.9 358 L1605.0 352 L1605.0 346 L1605.0 340Z" fill="url(#g6)"/>
<path d="M1484.0 1084 L1471.8 1134 L1489.8 1134 Q1493.0 1126 1488.0 1084Z" fill="#2c2421" opacity="0.4"/>
<path d="M1602.6 1084 L1620.8 1134 L1602.8 1134 Q1593.6 1126 1598.6 1084Z" fill="#2c2421" opacity="0.4"/>
<path d="M1492.0 340 L1492.0 346 L1491.9 352 L1491.9 358 L1491.9 364 L1491.9 370 L1491.8 376 L1491.8 382 L1491.8 388 L1491.8 394 L1491.7 400 L1491.7 406 L1491.7 412 L1491.6 418 L1491.6 424 L1491.6 430 L1491.6 436 L1491.5 442 L1491.5 448 L1491.5 454 L1491.5 460 L1491.4 466 L1491.4 472 L1491.4 478 L1491.3 484 L1491.3 490 L1491.3 496 L1491.3 502 L1491.2 508 L1491.2 514 L1491.2 520 L1491.2 526 L1491.1 532 L1488.4 538 L1486.4 544 L1485.4 550 L1485.0 556 L1485.2 562 L1486.1 568 L1487.8 574 L1490.9 580 L1490.9 586 L1490.9 592 L1490.8 598 L1490.8 604 L1490.8 610 L1490.7 616 L1490.7 622 L1490.7 628 L1490.7 634 L1488.6 640 L1486.3 646 L1485.0 652 L1484.1 658 L1483.7 664 L1483.5 670 L1483.7 676 L1484.1 682 L1485.0 688 L1486.4 694 L1489.0 700 L1490.3 706 L1490.3 712 L1490.3 718 L1490.3 724 L1490.2 730 L1490.2 736 L1490.2 742 L1503.2 742 L1505.0 340Z" fill="#2a211d" opacity="0.170"/><path d="M1605.0 340 L1605.0 346 L1605.0 352 L1604.9 358 L1604.9 364 L1604.9 370 L1604.9 376 L1604.9 382 L1604.9 388 L1604.8 394 L1604.8 400 L1604.8 406 L1604.8 412 L1604.8 418 L1604.7 424 L1604.7 430 L1604.7 436 L1604.7 442 L1604.7 448 L1604.7 454 L1604.6 460 L1604.6 466 L1604.6 472 L1604.6 478 L1604.6 484 L1604.5 490 L1604.5 496 L1604.5 502 L1604.5 508 L1604.5 514 L1604.5 520 L1604.4 526 L1604.4 532 L1606.6 538 L1608.3 544 L1609.1 550 L1609.3 556 L1609.1 562 L1608.4 568 L1606.9 574 L1604.3 580 L1604.3 586 L1604.2 592 L1604.2 598 L1604.2 604 L1604.2 610 L1604.2 616 L1604.1 622 L1604.1 628 L1604.1 634 L1605.5 640 L1607.1 646 L1608.1 652 L1608.6 658 L1608.9 664 L1609.0 670 L1608.9 676 L1608.5 682 L1607.8 688 L1606.8 694 L1604.9 700 L1603.9 706 L1603.9 712 L1603.9 718 L1603.8 724 L1603.8 730 L1603.8 736 L1603.8 742 L1590.8 742 L1592.0 340Z" fill="#2a211d" opacity="0.170"/>
<path d="M1490.2 742 L1490.1 748 L1490.1 754 L1490.1 760 L1490.1 766 L1490.0 772 L1490.0 778 L1490.0 784 L1490.0 790 L1489.9 796 L1489.9 802 L1489.9 808 L1489.8 814 L1489.8 820 L1489.8 826 L1489.8 832 L1489.7 838 L1489.7 844 L1489.7 850 L1489.7 856 L1489.6 862 L1489.6 868 L1489.6 874 L1489.5 880 L1489.5 886 L1489.5 892 L1489.5 898 L1489.4 904 L1489.4 910 L1489.4 916 L1489.4 922 L1489.3 928 L1489.3 934 L1489.3 940 L1489.2 946 L1489.2 952 L1489.2 958 L1489.2 964 L1489.1 970 L1489.1 976 L1489.1 982 L1489.1 988 L1489.0 994 L1489.0 1000 L1488.6 1006 L1488.3 1012 L1487.9 1018 L1487.6 1024 L1487.2 1030 L1486.8 1036 L1486.5 1042 L1486.1 1048 L1485.8 1054 L1485.4 1060 L1485.0 1066 L1484.7 1072 L1484.3 1078 L1484.0 1084 L1483.6 1090 L1483.2 1096 L1483.0 1102 L1483.0 1108 L1482.9 1114 L1479.2 1120 L1474.9 1126 L1472.5 1132 L1470.9 1138 L1470.0 1144 L1469.7 1150 L1469.9 1156 L1470.7 1162 L1472.2 1168 L1474.6 1174 L1478.8 1180 L1482.5 1186 L1482.4 1192 L1482.4 1198 L1482.3 1204 L1482.3 1210 L1482.3 1216 L1482.2 1222 L1482.2 1228 L1482.2 1234 L1482.1 1240 L1482.1 1246 L1482.0 1252 L1482.0 1258 L1482.0 1264 L1481.9 1270 L1481.9 1276 L1481.9 1282 L1481.8 1288 L1481.8 1294 L1481.8 1300 L1481.7 1306 L1481.7 1312 L1481.6 1318 L1481.6 1324 L1481.6 1330 L1481.5 1336 L1481.5 1342 L1481.5 1348 L1481.4 1354 L1481.4 1360 L1481.3 1366 L1481.3 1372 L1481.3 1378 L1481.2 1384 L1481.2 1390 L1481.2 1396 L1481.1 1402 L1481.1 1408 L1481.0 1414 L1481.0 1420 L1481.0 1426 L1480.9 1432 L1480.9 1438 L1480.8 1444 L1477.0 1450 L1474.7 1456 L1473.4 1462 L1472.8 1468 L1472.7 1474 L1473.2 1480 L1474.3 1486 L1476.3 1492 L1480.5 1498 L1480.5 1504 L1480.4 1510 L1480.4 1516 L1480.4 1522 L1480.3 1528 L1480.3 1534 L1480.2 1540 L1480.2 1546 L1480.2 1552 L1480.1 1558 L1480.1 1564 L1480.1 1570 L1480.0 1576 L1493.0 1576 L1503.2 742Z" fill="#2a211d" opacity="0.094"/><path d="M1603.8 742 L1603.8 748 L1603.7 754 L1603.7 760 L1603.7 766 L1603.7 772 L1603.7 778 L1603.7 784 L1603.6 790 L1603.6 796 L1603.6 802 L1603.6 808 L1603.6 814 L1603.5 820 L1603.5 826 L1603.5 832 L1603.5 838 L1603.5 844 L1603.5 850 L1603.4 856 L1603.4 862 L1603.4 868 L1603.4 874 L1603.4 880 L1603.3 886 L1603.3 892 L1603.3 898 L1603.3 904 L1603.3 910 L1603.3 916 L1603.2 922 L1603.2 928 L1603.2 934 L1603.2 940 L1603.2 946 L1603.1 952 L1603.1 958 L1603.1 964 L1603.1 970 L1603.1 976 L1603.1 982 L1603.0 988 L1603.0 994 L1603.0 1000 L1603.0 1006 L1602.9 1012 L1602.9 1018 L1602.9 1024 L1602.8 1030 L1602.8 1036 L1602.8 1042 L1602.8 1048 L1602.7 1054 L1602.7 1060 L1602.7 1066 L1602.6 1072 L1602.6 1078 L1602.6 1084 L1602.5 1090 L1602.5 1096 L1602.5 1102 L1602.4 1108 L1602.4 1114 L1608.6 1120 L1615.7 1126 L1619.8 1132 L1622.4 1138 L1623.8 1144 L1624.2 1150 L1623.7 1156 L1622.2 1162 L1619.6 1168 L1615.5 1174 L1608.3 1180 L1602.0 1186 L1602.0 1192 L1602.0 1198 L1601.9 1204 L1601.9 1210 L1601.9 1216 L1601.9 1222 L1601.8 1228 L1601.8 1234 L1601.8 1240 L1601.7 1246 L1601.7 1252 L1601.7 1258 L1601.6 1264 L1601.6 1270 L1601.6 1276 L1601.5 1282 L1601.5 1288 L1601.5 1294 L1601.4 1300 L1601.4 1306 L1601.4 1312 L1601.4 1318 L1601.3 1324 L1601.3 1330 L1601.3 1336 L1601.2 1342 L1601.2 1348 L1601.2 1354 L1601.1 1360 L1601.1 1366 L1601.1 1372 L1601.0 1378 L1601.0 1384 L1601.0 1390 L1601.0 1396 L1600.9 1402 L1600.9 1408 L1600.9 1414 L1600.8 1420 L1600.8 1426 L1600.8 1432 L1600.7 1438 L1600.7 1444 L1603.5 1450 L1605.2 1456 L1606.1 1462 L1606.5 1468 L1606.5 1474 L1606.1 1480 L1605.2 1486 L1603.7 1492 L1600.4 1498 L1600.4 1504 L1600.4 1510 L1600.3 1516 L1600.3 1522 L1600.3 1528 L1600.2 1534 L1600.2 1540 L1600.2 1546 L1600.1 1552 L1600.1 1558 L1600.1 1564 L1600.1 1570 L1600.0 1576 L1587.0 1576 L1590.8 742Z" fill="#2a211d" opacity="0.094"/>
</g>
<circle cx="1127" cy="581.5" r="4" fill="#1a1614" filter="url(#b1)"/>
<g fill="none" stroke="#7d726c" stroke-width="2" filter="url(#b1)" opacity=".8">
<circle cx="1264" cy="485" r="7"/><circle cx="1352" cy="603" r="7"/><circle cx="1408" cy="1111" r="8"/><circle cx="1510" cy="1117" r="9"/>
<circle cx="1534" cy="1266" r="9"/><circle cx="1494" cy="970" r="8"/><circle cx="1466" cy="1460" r="11"/><circle cx="1494" cy="1500" r="6"/>
</g>
<g fill="none" stroke="#4a403b" stroke-width="3" filter="url(#b1)" opacity=".8"><path d="M1494 1567 Q1528 1549 1562 1546 L1634 1546" stroke-width="5"/><path d="M1540 1542 Q1560 1535 1582 1535 L1606 1536" stroke-width="2" opacity=".6"/><path d="M1610 1561 L1634 1560" stroke-width="3" opacity=".7"/></g>
<g stroke="#6b605a" stroke-width="5" filter="url(#b2)" opacity=".7"><path d="M916 1157H944"/><path d="M1087 1156H1117"/><path d="M1261 1160H1291"/></g>

</g>
<rect x="411" y="350" width="1223" height="1215" fill="none" stroke="#141210" stroke-width="3.9"/>
<g clip-path="url(#cb)"><rect x="2060" y="352" width="680" height="1245" fill="url(#bb)"/><rect x="2268" y="590" width="72" height="420" fill="url(#sm)" filter="url(#b12)"/><rect x="2276" y="1000" width="26" height="160" fill="#2a2320" opacity=".06" filter="url(#b12)"/><g filter="url(#b7)"><ellipse cx="2331" cy="591" rx="55" ry="20.5" fill="#231c19"/><ellipse cx="2485" cy="589" rx="54" ry="9.5" fill="#30282400" /><ellipse cx="2485" cy="589" rx="54" ry="9.5" fill="#2e2622" transform="rotate(-4 2485 589)"/><path d="M2590 585 Q2640 612 2690 588 Q2698 560 2686 555 Q2674 562 2672 578 Q2640 590 2592 580Z" fill="#231c19" stroke="#231c19" stroke-width="10" stroke-linejoin="round"/><path d="M2103 1200 Q2109 1176 2120 1182 Q2131 1202 2160 1208 L2222 1209 Q2233 1215 2231 1230 Q2226 1245 2200 1246 L2125 1252 Q2101 1249 2099 1226Z" fill="#2f2723" stroke="#2f2723" stroke-width="9" stroke-linejoin="round"/></g><path d="M2174 1192 Q2172 1150 2200 1142" fill="none" stroke="#4a403b" stroke-width="8" opacity=".2" filter="url(#bs)"/><g filter="url(#b2)"><ellipse cx="2358.8" cy="1196.7" rx="5.5" ry="8" fill="#1e1815"/><circle cx="2236" cy="1194.5" r="3.5" fill="#1e1815" opacity=".3"/><rect x="2362" y="902" width="15" height="7" rx="3" fill="#2a2320" opacity=".8"/><circle cx="2200.6" cy="627.8" r="5" fill="#1e1815" opacity="0.75"/><circle cx="2300" cy="512" r="4" fill="#1e1815" opacity="0.5"/><circle cx="2338.4" cy="525.6" r="4.5" fill="#1e1815" opacity="0.6"/><circle cx="2126.7" cy="539.8" r="4" fill="#1e1815" opacity="0.3"/><circle cx="2545.7" cy="419.6" r="5" fill="#1e1815" opacity="0.25"/><circle cx="2575.6" cy="452" r="6" fill="#1e1815" opacity="0.25"/><circle cx="2487.5" cy="475" r="4" fill="#1e1815" opacity="0.25"/><circle cx="2685" cy="492" r="4.5" fill="#1e1815" opacity="0.4"/><circle cx="2615" cy="404" r="2.5" fill="#1e1815" opacity="0.4"/><circle cx="2173.6" cy="713" r="4" fill="#1e1815" opacity="0.3"/><circle cx="2207.7" cy="754.8" r="4" fill="#1e1815" opacity="0.5"/><circle cx="2136.6" cy="740.6" r="4" fill="#1e1815" opacity="0.25"/><circle cx="2388" cy="762" r="3.5" fill="#1e1815" opacity="0.5"/><circle cx="2524.4" cy="654" r="3.5" fill="#1e1815" opacity="0.4"/><circle cx="2699" cy="655.4" r="5" fill="#1e1815" opacity="0.2"/><circle cx="2589.8" cy="732" r="5" fill="#1e1815" opacity="0.2"/><circle cx="2196.3" cy="812.6" r="3.5" fill="#1e1815" opacity="0.7"/><circle cx="2322.7" cy="823" r="4.5" fill="#1e1815" opacity="0.6"/><circle cx="2308.5" cy="832.4" r="3" fill="#1e1815" opacity="0.4"/><circle cx="2371" cy="947" r="4" fill="#1e1815" opacity="0.8"/><circle cx="2329.8" cy="966" r="3.5" fill="#1e1815" opacity="0.4"/><circle cx="2715.6" cy="801" r="4.5" fill="#1e1815" opacity="0.6"/><circle cx="2577" cy="808.3" r="4" fill="#1e1815" opacity="0.35"/><circle cx="2601" cy="923.4" r="3.5" fill="#1e1815" opacity="0.4"/><circle cx="2177.8" cy="772" r="3.5" fill="#1e1815" opacity="0.4"/><circle cx="2247.4" cy="780" r="4" fill="#1e1815" opacity="0.25"/><circle cx="2136.6" cy="1002" r="3" fill="#1e1815" opacity="0.4"/><circle cx="2158" cy="1088" r="3" fill="#1e1815" opacity="0.4"/><circle cx="2088" cy="817.7" r="2.5" fill="#1e1815" opacity="0.4"/><circle cx="2423" cy="1473" r="9" fill="#1e1815" opacity="0.15"/><circle cx="2205" cy="1500" r="8" fill="#1e1815" opacity="0.1"/></g><rect x="2066" y="358" width="6" height="1231" fill="#fbfaf8"/></g><rect x="2066" y="358" width="664.5" height="1231" fill="none" stroke="#141210" stroke-width="4"/>
<text transform="translate(966.5 189.5) scale(0.98 1)" font-size="85.17" text-anchor="middle">Silver-stained gel XL analysis</text>
<text transform="translate(965.5 289.7) scale(0.98 1)" font-size="85.17" text-anchor="middle">(10% gel)</text>
<text transform="translate(2401 203.7) scale(0.98 1)" font-size="85.17" text-anchor="middle">IB-XL analysis</text>
<text transform="translate(2400.8 304) scale(0.98 1)" font-size="85.17" text-anchor="middle">(6% gel)</text>
<path d="M289 345 L286.8 1563" stroke="#1d1b19" stroke-width="5.4" fill="none"/>
<path d="M288 477.8 L361 479.4" stroke="#1d1b19" stroke-width="3.8" fill="none"/>
<path d="M288 563.5 L361 565.1" stroke="#1d1b19" stroke-width="3.8" fill="none"/>
<path d="M288 691.2 L361 692.8" stroke="#1d1b19" stroke-width="3.8" fill="none"/>
<path d="M288 807.2 L361 808.8" stroke="#1d1b19" stroke-width="3.8" fill="none"/>
<path d="M288 1028.4 L361 1030.0" stroke="#1d1b19" stroke-width="3.8" fill="none"/>
<path d="M288 1233.0 L361 1234.6" stroke="#1d1b19" stroke-width="3.8" fill="none"/>
<path d="M288 1492.7 L361 1494.3" stroke="#1d1b19" stroke-width="3.8" fill="none"/>
<text transform="translate(246.0 507.4) scale(0.968 1)" font-size="71.28" text-anchor="end">250</text>
<text transform="translate(244.7 598.2) scale(0.968 1)" font-size="71.28" text-anchor="end">150</text>
<text transform="translate(244.7 725.6) scale(0.968 1)" font-size="71.28" text-anchor="end">100</text>
<text transform="translate(248.5 844.4) scale(0.968 1)" font-size="71.28" text-anchor="end">75</text>
<text transform="translate(254.5 1063) scale(0.968 1)" font-size="71.28" text-anchor="end">50</text>
<text transform="translate(255.3 1265.6) scale(0.968 1)" font-size="71.28" text-anchor="end">37</text>
<text transform="translate(250.2 1523.7) scale(0.968 1)" font-size="71.28" text-anchor="end">25</text>
<path d="M1878 352 L1875.7 1578" stroke="#1d1b19" stroke-width="5.4" fill="none"/>
<path d="M1877 623.4 L1950 625.0" stroke="#1d1b19" stroke-width="3.8" fill="none"/>
<path d="M1877 702.9 L1950 704.5" stroke="#1d1b19" stroke-width="3.8" fill="none"/>
<path d="M1877 815.7 L1950 817.3" stroke="#1d1b19" stroke-width="3.8" fill="none"/>
<path d="M1877 918.9 L1950 920.5" stroke="#1d1b19" stroke-width="3.8" fill="none"/>
<path d="M1877 1115.6 L1950 1117.2" stroke="#1d1b19" stroke-width="3.8" fill="none"/>
<path d="M1877 1295.2 L1950 1296.8" stroke="#1d1b19" stroke-width="3.8" fill="none"/>
<path d="M1877 1525.6 L1950 1527.2" stroke="#1d1b19" stroke-width="3.8" fill="none"/>
<text transform="translate(1840.2 643.8) scale(0.968 1)" font-size="71.28" text-anchor="end">250</text>
<text transform="translate(1838.9 734.8) scale(0.968 1)" font-size="71.28" text-anchor="end">150</text>
<text transform="translate(1843.3 842.7) scale(0.968 1)" font-size="71.28" text-anchor="end">100</text>
<text transform="translate(1846.8 948.5) scale(0.968 1)" font-size="71.28" text-anchor="end">75</text>
<text transform="translate(1844.5 1138.3) scale(0.968 1)" font-size="71.28" text-anchor="end">50</text>
<text transform="translate(1845.9 1326.2) scale(0.968 1)" font-size="71.28" text-anchor="end">37</text>
<text transform="translate(1840.2 1550.5) scale(0.968 1)" font-size="71.28" text-anchor="end">25</text>
<text transform="translate(506.6 1662) scale(0.968 1)" font-size="70.76" text-anchor="middle">0</text>
<text transform="translate(673.6 1662) scale(0.968 1)" font-size="70.76" text-anchor="middle">10</text>
<text transform="translate(857.8 1662) scale(0.968 1)" font-size="70.76" text-anchor="middle">25</text>
<text transform="translate(1024.5 1662) scale(0.968 1)" font-size="70.76" text-anchor="middle">50</text>
<text transform="translate(1191 1662) scale(0.968 1)" font-size="70.76" text-anchor="middle">75</text>
<text transform="translate(1358.5 1662) scale(0.968 1)" font-size="70.76" text-anchor="middle">100</text>
<text transform="translate(1544.6 1662) scale(0.968 1)" font-size="70.76" text-anchor="middle">150</text>
<text transform="translate(2172 1671.6) scale(0.968 1)" font-size="70.76" text-anchor="middle">0</text>
<text transform="translate(2320 1671.6) scale(0.968 1)" font-size="70.76" text-anchor="middle">10</text>
<text transform="translate(2486.5 1671.6) scale(0.968 1)" font-size="70.76" text-anchor="middle">25</text>
<text transform="translate(2635.3 1671.6) scale(0.968 1)" font-size="70.76" text-anchor="middle">50</text>
<path d="M401 1691.8 L1628 1685.8" stroke="#1d1b19" stroke-width="9.6" fill="none"/><path d="M1625.5 1670.5 L1655 1685.5 L1625.5 1700.5Z" fill="#1d1b19"/>
<path d="M2067 1696 L2714 1703.6" stroke="#1d1b19" stroke-width="10" fill="none"/><path d="M2711.5 1689.5 L2740 1703.9 L2711.5 1717.5Z" fill="#1d1b19"/>
<text transform="translate(684.5 1765.5) scale(0.972 1)" font-size="69.01" text-anchor="start"><tspan class="r">μ</tspan>g BS<tspan font-size="46" dy="-20">3</tspan><tspan dy="20"> XL / mg protein</tspan></text>
<text transform="translate(2054 1774.3) scale(0.972 1)" font-size="69.01" text-anchor="start"><tspan class="r">μ</tspan>g BS<tspan font-size="46" dy="-20">3</tspan><tspan dy="20"> XL / mg protein</tspan></text>
<path d="M2745 587 L2807 530 L2807 644Z" fill="#1d1b19"/>
<path d="M2739.5 1247.8 L2801 1191 L2801 1305Z" fill="#1d1b19"/>
<text transform="translate(2844 568) scale(0.968 1)" font-size="69.21" text-anchor="start"><tspan class="s" font-size="68">β</tspan>-DG</text>
<text transform="translate(2922.5 646.7) scale(0.968 1)" font-size="69.21" text-anchor="middle">XL</text>
<text transform="translate(2841 1269) scale(0.968 1)" font-size="69.21" text-anchor="start"><tspan class="s" font-size="68">β</tspan>-DG</text>
</svg></body></html>
